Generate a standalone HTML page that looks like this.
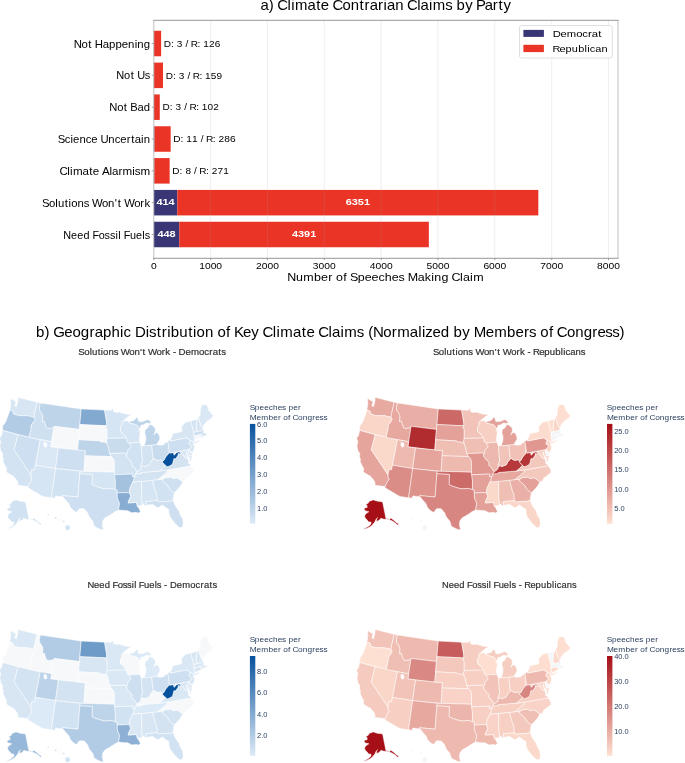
<!DOCTYPE html>
<html><head><meta charset="utf-8"><style>
html,body{margin:0;padding:0;background:#fff;overflow:hidden}
svg{display:block;will-change:transform}
text{font-family:"Liberation Sans",sans-serif}
</style></head><body>
<svg width="685" height="763" viewBox="0 0 685 763">
<rect width="685" height="763" fill="#fff"/>
<text transform="translate(260.55,9.70) scale(1.0816,1)" x="-0.08 7.61 12.33 15.49 24.92 28.33 31.79 43.43 51.51 55.76 63.41 66.57 75.75 83.38 91.59 96.13 100.87 108.69 113.68 116.83 124.47 132.23 135.39 144.82 147.98 155.74 159.20 170.67 177.34 181.26 189.17 196.28 199.24 207.18 214.72 220.03 224.52" y="0" font-size="13.80" fill="#000">a) Climate Contrarian Claims by Party</text>
<rect x="153.80" y="221.75" width="25.46" height="25.50" fill="#393675"/>
<rect x="179.26" y="221.75" width="249.58" height="25.50" fill="#ea3426"/>
<line x1="151.80" y1="234.50" x2="153.80" y2="234.50" stroke="#888" stroke-width="0.8"/>
<text transform="translate(63.25,238.60) scale(1.0298,1)" x="-0.12 7.47 13.53 19.69 25.86 28.50 34.46 40.17 45.30 50.70 53.44 56.09 58.73 64.71 70.59 76.76 79.23" y="0" font-size="10.55" fill="#000">Need Fossil Fuels</text>
<text transform="translate(157.40,237.20) scale(1.2030,1)" x="0.00 5.06 10.12" y="0" font-size="9.10" fill="#fff" font-weight="bold">448</text>
<text transform="translate(291.88,237.20) scale(1.2030,1)" x="0.00 5.06 10.12 15.18" y="0" font-size="9.10" fill="#fff" font-weight="bold">4391</text>
<rect x="153.80" y="189.92" width="23.53" height="25.50" fill="#393675"/>
<rect x="177.33" y="189.92" width="360.99" height="25.50" fill="#ea3426"/>
<line x1="151.80" y1="202.67" x2="153.80" y2="202.67" stroke="#888" stroke-width="0.8"/>
<text transform="translate(42.55,206.77) scale(1.0750,1)" x="-0.52 5.95 11.91 14.45 20.76 24.22 26.66 32.54 38.28 43.42 46.07 55.40 61.00 67.22 69.91 73.26 75.91 85.24 90.97 94.76" y="0" font-size="10.55" fill="#000">Solutions Won&#39;t Work</text>
<text transform="translate(156.43,205.37) scale(1.2030,1)" x="0.00 5.06 10.12" y="0" font-size="9.10" fill="#fff" font-weight="bold">414</text>
<text transform="translate(345.65,205.37) scale(1.2030,1)" x="0.00 5.06 10.12 15.18" y="0" font-size="9.10" fill="#fff" font-weight="bold">6351</text>
<rect x="153.80" y="158.09" width="0.45" height="25.50" fill="#393675"/>
<rect x="154.25" y="158.09" width="15.40" height="25.50" fill="#ea3426"/>
<line x1="151.80" y1="170.84" x2="153.80" y2="170.84" stroke="#888" stroke-width="0.8"/>
<text transform="translate(60.05,174.94) scale(1.0984,1)" x="-0.58 6.56 9.13 11.69 20.49 26.60 29.78 35.56 38.14 44.93 47.28 53.19 56.87 65.80 68.02 73.17" y="0" font-size="10.55" fill="#000">Climate Alarmism</text>
<text transform="translate(172.50,174.04) scale(1.0349,1)" x="-0.15 6.81 9.66 12.46 17.96 20.81 23.65 25.90 32.41 35.12 37.92 43.46 48.99" y="0" font-size="9.70" fill="#000">D: 8 / R: 271</text>
<rect x="153.80" y="126.26" width="0.63" height="25.50" fill="#393675"/>
<rect x="154.43" y="126.26" width="16.26" height="25.50" fill="#ea3426"/>
<line x1="151.80" y1="139.01" x2="153.80" y2="139.01" stroke="#888" stroke-width="0.8"/>
<text transform="translate(58.31,143.11) scale(1.0732,1)" x="-0.52 5.97 11.34 13.81 19.71 25.61 30.82 36.70 39.32 46.65 52.55 57.76 63.79 67.88 71.16 77.14 79.69" y="0" font-size="10.55" fill="#000">Science Uncertain</text>
<text transform="translate(173.52,142.21) scale(1.0499,1)" x="-0.20 6.70 9.50 12.24 17.70 23.14 25.94 28.75 30.94 37.38 40.06 42.80 48.25 53.70" y="0" font-size="9.70" fill="#000">D: 11 / R: 286</text>
<rect x="153.80" y="94.43" width="0.17" height="25.50" fill="#393675"/>
<rect x="153.97" y="94.43" width="5.80" height="25.50" fill="#ea3426"/>
<line x1="151.80" y1="107.18" x2="153.80" y2="107.18" stroke="#888" stroke-width="0.8"/>
<text transform="translate(109.57,111.28) scale(1.0660,1)" x="-0.25 7.10 13.35 16.73 19.46 26.22 32.16" y="0" font-size="10.55" fill="#000">Not Bad</text>
<text transform="translate(162.61,110.38) scale(1.0349,1)" x="-0.15 6.81 9.66 12.46 17.96 20.81 23.65 25.90 32.41 35.12 37.92 43.46 48.99" y="0" font-size="9.70" fill="#000">D: 3 / R: 102</text>
<rect x="153.80" y="62.60" width="0.17" height="25.50" fill="#393675"/>
<rect x="153.97" y="62.60" width="9.04" height="25.50" fill="#ea3426"/>
<line x1="151.80" y1="75.35" x2="153.80" y2="75.35" stroke="#888" stroke-width="0.8"/>
<text transform="translate(116.47,79.45) scale(1.0460,1)" x="-0.18 7.29 13.63 17.08 19.83 27.08" y="0" font-size="10.55" fill="#000">Not Us</text>
<text transform="translate(165.85,78.55) scale(1.0349,1)" x="-0.15 6.81 9.66 12.46 17.96 20.81 23.65 25.90 32.41 35.12 37.92 43.46 48.99" y="0" font-size="9.70" fill="#000">D: 3 / R: 159</text>
<rect x="153.80" y="30.77" width="0.17" height="25.50" fill="#393675"/>
<rect x="153.97" y="30.77" width="7.16" height="25.50" fill="#ea3426"/>
<line x1="151.80" y1="43.52" x2="153.80" y2="43.52" stroke="#888" stroke-width="0.8"/>
<text transform="translate(74.08,47.62) scale(1.0815,1)" x="-0.30 6.96 13.14 16.47 19.14 26.42 32.28 38.24 44.10 49.96 56.00 58.52 64.47" y="0" font-size="10.55" fill="#000">Not Happening</text>
<text transform="translate(163.97,46.72) scale(1.0349,1)" x="-0.15 6.81 9.66 12.46 17.96 20.81 23.65 25.90 32.41 35.12 37.92 43.46 48.99" y="0" font-size="9.70" fill="#000">D: 3 / R: 126</text>
<line x1="210.64" y1="20.30" x2="210.64" y2="258.30" stroke="rgba(160,160,160,0.22)" stroke-width="0.8"/>
<line x1="267.48" y1="20.30" x2="267.48" y2="258.30" stroke="rgba(160,160,160,0.22)" stroke-width="0.8"/>
<line x1="324.32" y1="20.30" x2="324.32" y2="258.30" stroke="rgba(160,160,160,0.22)" stroke-width="0.8"/>
<line x1="381.16" y1="20.30" x2="381.16" y2="258.30" stroke="rgba(160,160,160,0.22)" stroke-width="0.8"/>
<line x1="438.00" y1="20.30" x2="438.00" y2="258.30" stroke="rgba(160,160,160,0.22)" stroke-width="0.8"/>
<line x1="494.84" y1="20.30" x2="494.84" y2="258.30" stroke="rgba(160,160,160,0.22)" stroke-width="0.8"/>
<line x1="551.68" y1="20.30" x2="551.68" y2="258.30" stroke="rgba(160,160,160,0.22)" stroke-width="0.8"/>
<line x1="608.52" y1="20.30" x2="608.52" y2="258.30" stroke="rgba(160,160,160,0.22)" stroke-width="0.8"/>
<line x1="153.80" y1="20.30" x2="153.80" y2="258.30" stroke="#b8b8b8" stroke-width="0.9"/>
<line x1="618.00" y1="20.30" x2="618.00" y2="258.30" stroke="#b8b8b8" stroke-width="0.9"/>
<line x1="153.30" y1="20.30" x2="618.50" y2="20.30" stroke="#8a8a8a" stroke-width="0.9"/>
<line x1="153.30" y1="258.30" x2="618.50" y2="258.30" stroke="#8a8a8a" stroke-width="0.9"/>
<line x1="153.80" y1="258.30" x2="153.80" y2="260.10" stroke="#888" stroke-width="0.8"/>
<text transform="translate(150.94,268.80) scale(1.1012,1)" x="-0.00" y="0" font-size="9.35" fill="#000">0</text>
<line x1="210.64" y1="258.30" x2="210.64" y2="260.10" stroke="#888" stroke-width="0.8"/>
<text transform="translate(199.19,268.80) scale(1.1012,1)" x="-0.00 5.20 10.40 15.60" y="0" font-size="9.35" fill="#000">1000</text>
<line x1="267.48" y1="258.30" x2="267.48" y2="260.10" stroke="#888" stroke-width="0.8"/>
<text transform="translate(256.03,268.80) scale(1.1012,1)" x="-0.00 5.20 10.40 15.60" y="0" font-size="9.35" fill="#000">2000</text>
<line x1="324.32" y1="258.30" x2="324.32" y2="260.10" stroke="#888" stroke-width="0.8"/>
<text transform="translate(312.87,268.80) scale(1.1012,1)" x="-0.00 5.20 10.40 15.60" y="0" font-size="9.35" fill="#000">3000</text>
<line x1="381.16" y1="258.30" x2="381.16" y2="260.10" stroke="#888" stroke-width="0.8"/>
<text transform="translate(369.71,268.80) scale(1.1012,1)" x="-0.00 5.20 10.40 15.60" y="0" font-size="9.35" fill="#000">4000</text>
<line x1="438.00" y1="258.30" x2="438.00" y2="260.10" stroke="#888" stroke-width="0.8"/>
<text transform="translate(426.55,268.80) scale(1.1012,1)" x="-0.00 5.20 10.40 15.60" y="0" font-size="9.35" fill="#000">5000</text>
<line x1="494.84" y1="258.30" x2="494.84" y2="260.10" stroke="#888" stroke-width="0.8"/>
<text transform="translate(483.39,268.80) scale(1.1012,1)" x="-0.00 5.20 10.40 15.60" y="0" font-size="9.35" fill="#000">6000</text>
<line x1="551.68" y1="258.30" x2="551.68" y2="260.10" stroke="#888" stroke-width="0.8"/>
<text transform="translate(540.23,268.80) scale(1.1012,1)" x="-0.00 5.20 10.40 15.60" y="0" font-size="9.35" fill="#000">7000</text>
<line x1="608.52" y1="258.30" x2="608.52" y2="260.10" stroke="#888" stroke-width="0.8"/>
<text transform="translate(597.07,268.80) scale(1.1012,1)" x="-0.00 5.20 10.40 15.60" y="0" font-size="9.35" fill="#000">8000</text>
<text transform="translate(287.50,280.80) scale(1.0764,1)" x="-0.29 7.87 14.64 24.62 31.14 37.78 41.89 45.12 51.76 55.25 57.95 65.21 71.72 78.13 84.52 90.36 96.87 103.11 108.77 111.70 120.99 127.52 133.60 136.41 143.02 149.60 152.31 160.30 163.00 169.57 172.55" y="0" font-size="11.60" fill="#000">Number of Speeches Making Claim</text>
<rect x="519.5" y="25.5" width="92.7" height="32.5" rx="2" ry="2" fill="#fff" fill-opacity="0.8" stroke="#d8d8d8" stroke-width="0.8"/>
<rect x="523.40" y="29.90" width="20.50" height="7.00" fill="#393675"/>
<rect x="523.40" y="44.80" width="20.50" height="7.30" fill="#ea3426"/>
<text transform="translate(552.90,37.00) scale(1.1512,1)" x="-0.23 6.55 12.03 20.21 25.48 30.43 33.74 39.43" y="0" font-size="9.80" fill="#000">Democrat</text>
<text transform="translate(552.90,52.00) scale(1.1176,1)" x="-0.45 5.98 11.33 16.96 22.60 28.29 30.76 33.07 37.96 43.49" y="0" font-size="9.80" fill="#000">Republican</text>
<text transform="translate(36.00,337.00) scale(1.0810,1)" x="0.06 7.96 12.72 16.01 26.15 33.75 41.46 49.49 54.27 61.99 69.84 77.81 81.00 87.91 91.56 101.52 104.53 111.72 116.31 121.34 124.67 132.52 140.81 145.34 148.52 156.23 164.06 167.87 175.77 179.92 183.24 191.57 199.12 206.29 209.50 219.01 222.45 225.95 237.70 245.85 250.15 257.86 261.06 270.58 273.77 281.60 285.10 296.67 303.40 307.40 311.74 321.31 329.19 334.18 345.82 353.65 357.09 360.13 366.79 374.53 382.36 386.32 394.30 401.48 404.92 415.99 423.91 435.79 443.52 451.43 456.03 462.77 466.59 474.49 478.63 481.83 491.10 498.80 506.66 514.68 519.34 526.63 533.08 539.88" y="0" font-size="13.90" fill="#000">b) Geographic Distribution of Key Climate Claims (Normalized by Members of Congress)</text>
<text transform="translate(78.77,355.40) scale(1.0800,1)" x="-0.45 5.02 10.06 12.21 17.55 20.47 22.53 27.50 32.36 36.70 38.93 46.82 51.56 56.82 59.09 61.93 64.16 72.05 76.90 80.10 84.68 87.14 90.09 92.45 98.72 103.82 111.39 116.28 120.86 123.95 129.20 131.85" y="0" font-size="8.95" fill="#303030" stroke="#303030" stroke-width="0.18">Solutions Won&#39;t Work - Democrats</text>
<g stroke="#fff" stroke-width="0.5" stroke-linejoin="round"><path d="M10.56,398.41L14.31,400.78L15.94,401.42L14.78,405.99L16.48,406.47L17.87,401.01L18.03,397.35L37.08,402.22L34.17,415.10L34.08,417.29L26.86,415.60L24.91,415.65L21.16,415.75L18.57,415.59L15.78,414.82L13.41,413.89L13.02,411.36L10.14,409.70L9.70,409.30L10.58,405.81L10.64,402.61Z" fill="#d8e6f4"/><path d="M10.14,409.70L13.02,411.36L13.41,413.89L15.78,414.82L18.57,415.59L21.16,415.75L24.91,415.65L26.86,415.60L34.08,417.29L35.18,419.64L33.37,422.42L31.14,425.62L31.19,428.28L29.13,437.39L2.63,430.39L2.62,426.05L5.61,422.09L8.85,413.35Z" fill="#b3cce5"/><path d="M2.63,430.39L18.10,434.74L14.19,449.84L30.98,474.99L31.02,476.06L31.22,478.75L32.32,479.12L30.10,482.23L28.65,485.12L28.28,486.53L17.90,485.33L17.89,482.83L16.89,480.48L15.22,478.22L14.03,477.67L13.90,476.41L11.15,475.10L6.27,471.98L6.59,468.30L4.65,465.08L3.08,461.42L3.50,459.91L2.38,456.35L2.85,453.24L1.20,451.68L-0.16,446.39L0.81,441.80L-0.53,438.13L1.51,435.48L2.20,431.89Z" fill="#d3e3f2"/><path d="M18.10,434.74L40.31,439.71L34.59,469.33L34.25,469.80L31.71,469.83L30.98,474.99L14.19,449.84Z" fill="#cddff0"/><path d="M37.08,402.22L40.37,402.94L39.29,407.92L39.91,410.93L41.08,412.22L42.90,415.73L42.78,419.11L42.15,421.35L44.26,420.97L45.29,424.31L46.53,427.69L48.66,428.33L52.50,427.66L53.61,428.89L51.56,441.68L29.13,437.39L31.19,428.28L31.14,425.62L33.37,422.42L35.18,419.64L34.08,417.29L34.17,415.10Z" fill="#cfe0f1"/><path d="M40.37,402.94L81.16,408.98L79.41,429.43L54.02,426.34L53.61,428.89L52.50,427.66L48.66,428.33L46.53,427.69L45.29,424.31L44.26,420.97L42.15,421.35L42.78,419.11L42.90,415.73L41.08,412.22L39.91,410.93L39.29,407.92Z" fill="#bed4e9"/><path d="M54.02,426.34L79.41,429.43L77.65,450.08L50.74,446.81Z" fill="#f7f8fa"/><path d="M40.31,439.71L51.56,441.68L50.74,446.81L58.40,447.94L55.54,468.56L35.38,465.25Z" fill="#dae8f5"/><path d="M58.40,447.94L85.38,450.65L84.05,471.42L55.54,468.56Z" fill="#cddff0"/><path d="M35.38,465.25L55.54,468.56L51.49,497.72L42.69,496.42L27.63,487.56L28.28,486.53L28.65,485.12L30.10,482.23L32.32,479.12L31.22,478.75L31.02,476.06L30.98,474.99L31.71,469.83L34.25,469.80L34.59,469.33Z" fill="#d5e5f3"/><path d="M55.54,468.56L80.17,471.16L79.81,473.74L77.99,497.04L62.50,495.60L62.90,496.79L55.50,495.91L55.20,498.22L51.49,497.72Z" fill="#d1e2f2"/><path d="M81.16,408.98L104.58,410.12L104.99,412.68L105.82,417.29L106.67,422.42L106.79,425.82L79.83,424.60Z" fill="#82a9d0"/><path d="M79.83,424.60L106.79,425.82L105.73,427.56L107.17,429.12L107.12,438.42L106.55,441.01L107.10,443.65L104.28,442.02L101.25,442.13L99.40,440.89L78.53,439.74Z" fill="#f7f8fa"/><path d="M78.53,439.74L99.40,440.89L101.25,442.13L104.28,442.02L107.10,443.65L108.04,446.20L108.81,448.80L109.19,451.39L109.59,453.47L111.52,456.58L85.05,455.84L85.38,450.65L77.65,450.08Z" fill="#bed4e9"/><path d="M85.05,455.84L111.52,456.58L113.15,458.13L114.38,461.24L114.46,472.16L84.05,471.42Z" fill="#f7f8fa"/><path d="M80.17,471.16L114.46,472.16L115.37,480.48L115.31,489.62L110.94,488.32L106.67,488.84L103.68,488.81L100.71,487.98L96.49,486.58L93.56,485.44L91.90,484.54L92.32,474.46L79.81,473.74Z" fill="#d5e5f3"/><path d="M79.81,473.74L92.32,474.46L91.90,484.54L93.56,485.44L96.49,486.58L100.71,487.98L103.68,488.81L106.67,488.84L110.94,488.32L115.31,489.62L117.20,490.06L117.37,498.09L118.48,500.66L119.64,503.21L119.07,506.85L118.51,509.96L114.67,511.83L112.88,513.14L108.81,515.73L105.15,517.77L102.82,520.83L102.29,524.92L103.40,529.28L101.75,529.77L98.49,528.43L94.34,526.27L92.66,521.09L89.16,516.83L87.54,512.63L84.13,508.84L80.10,508.59L78.68,509.52L76.65,512.48L74.48,511.28L72.76,510.10L70.30,507.30L68.86,503.54L65.64,500.10L62.90,496.79L62.50,495.60L77.99,497.04Z" fill="#cddff0"/><path d="M104.58,410.12L111.73,410.14L111.71,408.21L112.91,408.60L113.64,411.64L116.43,412.51L119.19,412.03L122.70,413.17L126.93,414.25L131.49,414.48L128.13,416.74L124.74,419.49L122.69,421.37L122.00,421.91L122.11,424.74L120.40,427.38L120.67,429.95L120.55,431.76L122.43,432.98L123.97,434.47L126.66,437.97L107.12,438.42L107.17,429.12L105.73,427.56L106.79,425.82L106.67,422.42L105.82,417.29L104.99,412.68Z" fill="#d5e5f3"/><path d="M107.12,438.42L126.66,437.97L127.31,441.83L129.12,442.98L130.12,444.54L131.20,446.55L130.13,447.92L127.92,449.86L127.84,451.94L126.70,454.19L125.44,453.05L109.70,453.58L109.59,453.47L109.19,451.39L108.81,448.80L108.04,446.20L107.10,443.65L106.55,441.01Z" fill="#c9dcee"/><path d="M109.70,453.58L125.44,453.05L126.70,454.19L126.68,456.17L127.77,458.20L129.86,460.17L131.00,461.41L132.10,463.01L131.76,465.27L133.25,466.49L135.12,468.45L135.52,469.99L137.04,471.29L136.74,472.77L135.58,473.90L135.07,475.49L134.93,476.55L132.11,476.72L132.91,474.07L114.49,474.77L114.46,472.16L114.38,461.24L113.15,458.13L111.52,456.58L109.59,453.47Z" fill="#d3e3f2"/><path d="M114.49,474.77L132.91,474.07L132.11,476.72L134.93,476.55L134.03,478.69L133.74,480.79L132.72,481.90L131.65,484.56L130.31,487.24L129.59,489.87L129.64,492.47L117.26,492.91L117.20,490.06L115.31,489.62L115.37,480.48Z" fill="#a4c1de"/><path d="M117.26,492.91L129.64,492.47L130.07,495.04L130.98,495.77L130.21,497.63L129.01,499.97L128.09,502.91L136.52,502.44L137.38,506.53L138.32,507.24L140.43,511.48L138.72,512.90L135.95,512.30L131.90,512.80L127.72,510.68L124.56,510.55L118.51,509.96L119.07,506.85L119.64,503.21L118.48,500.66L117.37,498.09Z" fill="#88add3"/><path d="M132.72,481.90L131.65,484.56L130.31,487.24L129.59,489.87L129.64,492.47L130.07,495.04L130.98,495.77L130.21,497.63L129.01,499.97L128.09,502.91L136.52,502.44L137.38,506.53L142.64,505.11L141.71,497.40L141.57,481.27Z" fill="#d8e6f4"/><path d="M141.57,481.27L152.45,480.23L155.36,490.88L156.80,493.84L157.36,500.55L145.92,501.72L146.68,505.28L144.48,505.73L143.86,503.71L142.64,505.11L141.71,497.40Z" fill="#d5e5f3"/><path d="M152.45,480.23L162.88,478.95L162.05,480.64L164.71,482.90L167.68,485.62L169.42,488.51L172.03,491.26L174.46,492.72L173.61,495.73L173.14,499.89L170.86,501.12L170.78,502.12L169.96,501.15L158.16,502.02L157.36,500.55L156.80,493.84L155.36,490.88Z" fill="#d1e2f2"/><path d="M145.92,501.72L157.36,500.55L158.16,502.02L169.96,501.15L170.78,502.12L170.86,501.12L173.14,499.89L174.54,504.48L176.66,507.80L179.03,511.06L180.47,515.51L182.66,518.78L183.20,523.36L182.63,527.07L180.10,527.74L179.04,527.14L175.16,523.60L173.39,521.28L170.20,517.08L169.02,513.62L168.90,509.48L165.41,507.36L162.37,504.89L160.69,505.88L158.20,507.73L156.29,506.91L152.40,504.21L146.68,505.28Z" fill="#cddff0"/><path d="M162.88,478.95L165.64,477.51L171.28,476.93L172.03,477.60L172.61,478.56L177.18,477.80L182.85,481.75L180.73,485.61L178.20,488.69L174.46,492.72L172.03,491.26L169.42,488.51L167.68,485.62L164.71,482.90L162.05,480.64Z" fill="#cfe0f1"/><path d="M157.79,479.61L159.00,478.41L162.45,475.86L164.67,473.71L166.61,472.64L167.46,469.94L191.11,465.84L193.44,469.33L194.11,472.37L192.28,473.83L189.71,475.96L186.66,477.90L185.54,481.03L182.85,481.75L177.18,477.80L172.61,478.56L172.03,477.60L171.28,476.93L165.64,477.51L162.88,478.95Z" fill="#f7f8fa"/><path d="M132.72,481.90L141.57,481.27L152.45,480.23L157.79,479.61L159.00,478.41L162.45,475.86L164.67,473.71L166.61,472.64L167.46,469.94L159.42,471.01L141.38,472.52L141.46,473.45L135.58,473.90L135.07,475.49L134.93,476.55L134.03,478.69L133.74,480.79Z" fill="#d3e3f2"/><path d="M135.58,473.90L141.46,473.45L141.38,472.52L159.42,471.01L162.28,468.53L164.45,466.38L165.63,465.21L164.11,464.07L162.63,462.33L162.45,461.04L160.64,459.67L158.31,460.40L155.80,459.67L154.45,458.52L153.19,458.67L153.19,458.67L152.26,460.35L151.13,461.01L149.94,463.39L149.13,464.89L147.17,465.61L144.82,466.52L142.83,465.65L141.05,466.69L141.05,466.69L140.90,468.27L139.04,470.62L137.04,471.29L136.74,472.77Z" fill="#d8e6f4"/><path d="M159.42,471.01L167.46,469.94L191.11,465.84L190.33,464.14L188.89,463.91L188.36,461.37L188.02,458.78L184.63,457.35L183.97,455.09L181.86,453.65L180.88,453.21L180.64,454.26L178.35,453.27L177.92,455.31L176.81,456.99L175.86,458.48L174.72,458.95L173.99,458.28L173.14,461.60L172.37,464.36L170.29,465.49L168.96,466.23L166.98,466.80L165.63,465.21L164.45,466.38L162.28,468.53Z" fill="#d3e3f2"/><path d="M190.44,458.53L191.93,457.77L191.03,460.26L190.13,462.85L189.68,461.35L189.71,458.95Z" fill="#d3e3f2"/><path d="M162.45,461.04L162.63,462.33L164.11,464.07L165.63,465.21L166.98,466.80L168.96,466.23L170.29,465.49L172.37,464.36L173.14,461.60L173.99,458.28L174.72,458.95L175.86,458.48L176.81,456.99L177.92,455.31L178.35,453.27L180.64,454.26L180.88,453.21L179.51,451.99L178.66,451.73L176.40,452.57L175.77,453.48L174.12,455.09L173.65,452.42L169.61,453.11L168.83,448.39L168.15,448.60L168.34,450.26L168.48,451.82L168.38,453.68L167.22,455.18L165.81,456.45L165.37,457.57L164.86,458.17L164.30,459.83L163.05,460.96Z" fill="#08519c"/><path d="M173.65,452.42L187.94,449.64L189.34,456.10L192.24,455.47L191.93,457.77L190.44,458.53L189.71,458.95L188.48,457.08L186.71,454.53L186.81,452.12L185.94,452.83L186.78,455.84L187.50,457.29L188.02,458.78L184.63,457.35L183.97,455.09L181.86,453.65L180.88,453.21L179.51,451.99L178.66,451.73L176.40,452.57L175.77,453.48L174.12,455.09Z" fill="#d8e6f4"/><path d="M187.94,449.64L189.27,448.93L189.00,450.05L189.91,451.45L191.84,453.69L192.24,455.47L189.34,456.10Z" fill="#d8e6f4"/><path d="M167.68,441.42L169.61,453.11L187.94,449.64L189.27,448.93L190.66,447.55L191.63,446.53L189.59,444.59L188.93,443.41L190.27,440.39L188.64,439.48L187.07,437.70L170.54,440.94L170.30,439.55Z" fill="#cddff0"/><path d="M170.54,440.94L187.07,437.70L188.64,439.48L190.27,440.39L193.67,441.53L193.65,443.13L192.88,444.11L193.79,443.74L197.50,442.48L201.12,439.42L198.59,440.44L194.92,441.76L194.61,441.30L194.93,440.16L193.89,435.87L193.92,432.12L192.72,427.88L190.83,420.89L186.02,422.02L184.11,423.50L181.16,427.31L182.28,430.77L179.56,432.39L175.83,432.86L172.05,434.09L172.38,435.87L170.30,439.55Z" fill="#d8e6f4"/><path d="M190.27,440.39L193.67,441.53L193.65,443.13L192.94,444.37L194.01,444.65L194.54,447.73L193.72,450.33L192.08,452.94L190.69,451.28L189.00,450.05L189.27,448.93L190.66,447.55L191.63,446.53L189.59,444.59L188.93,443.41Z" fill="#d8e6f4"/><path d="M194.61,441.30L194.93,440.16L193.89,435.87L200.22,434.44L201.13,437.91L198.59,438.88L196.81,439.70Z" fill="#f7f8fa"/><path d="M200.22,434.44L201.78,434.04L203.44,436.39L202.87,435.47L202.22,437.52L201.13,437.91Z" fill="#d8e6f4"/><path d="M193.89,435.87L193.92,432.12L196.88,431.50L201.16,430.55L202.75,429.21L203.85,430.37L202.98,432.21L204.75,433.62L207.24,434.01L206.63,432.56L207.54,434.36L205.11,435.67L203.44,436.39L201.78,434.04L200.22,434.44Z" fill="#cddff0"/><path d="M193.92,432.12L196.88,431.50L196.11,427.57L196.34,423.24L197.37,419.19L190.83,420.89L192.72,427.88Z" fill="#d3e3f2"/><path d="M196.88,431.50L196.11,427.57L196.34,423.24L197.37,419.19L198.46,417.35L200.50,423.76L201.42,426.73L202.87,428.21L202.75,429.21L201.16,430.55Z" fill="#d8e6f4"/><path d="M202.87,428.21L201.42,426.73L200.50,423.76L198.46,417.35L199.74,415.40L200.37,413.63L200.30,409.38L201.96,404.90L205.15,404.50L207.33,405.34L209.10,411.09L210.69,412.22L211.48,414.14L213.59,415.37L212.13,417.45L210.04,419.44L207.71,420.67L205.07,423.57L203.92,424.97Z" fill="#dae8f5"/><path d="M143.94,445.76L151.67,445.24L156.79,444.44L157.71,442.64L159.76,439.48L159.84,437.37L158.84,434.37L156.89,432.55L155.27,433.03L153.84,435.05L155.21,431.22L155.16,428.09L152.23,425.35L149.56,424.38L148.69,426.30L147.11,428.56L145.35,429.27L144.76,432.44L145.98,437.00L145.66,441.20Z" fill="#bed4e9"/><path d="M128.79,422.00L133.69,420.49L136.00,418.25L137.30,416.86L138.79,421.62L142.73,421.51L147.88,419.40L149.48,420.77L151.48,422.33L149.47,423.62L146.49,422.92L143.09,425.09L141.27,425.01L139.43,428.80L138.39,427.34L137.31,425.36L133.60,424.10L129.76,423.33Z" fill="#bed4e9"/><path d="M128.79,422.00L129.76,423.33L133.60,424.10L137.31,425.36L138.39,427.34L139.43,428.80L138.92,431.44L140.83,428.16L140.12,432.37L139.70,436.04L139.27,439.72L139.87,442.27L129.12,442.98L127.31,441.83L126.66,437.97L123.97,434.47L122.43,432.98L120.55,431.76L120.67,429.95L120.40,427.38L122.11,424.74L122.00,421.91L122.69,421.37L126.56,420.42Z" fill="#d5e5f3"/><path d="M129.12,442.98L139.87,442.27L141.27,446.00L142.35,458.49L142.53,461.34L141.15,464.07L141.05,466.69L140.90,468.27L139.04,470.62L137.04,471.29L135.52,469.99L135.12,468.45L133.25,466.49L131.76,465.27L132.10,463.01L131.00,461.41L129.86,460.17L127.77,458.20L126.68,456.17L126.70,454.19L127.84,451.94L127.92,449.86L130.13,447.92L131.20,446.55L130.12,444.54L129.12,442.98Z" fill="#d1e2f2"/><path d="M141.27,446.00L143.94,445.76L151.67,445.24L153.19,458.67L152.26,460.35L151.13,461.01L149.94,463.39L149.13,464.89L147.17,465.61L144.82,466.52L142.83,465.65L141.05,466.69L141.15,464.07L142.53,461.34L142.35,458.49Z" fill="#d3e3f2"/><path d="M151.67,445.24L156.79,444.44L159.81,445.24L163.61,444.68L165.99,442.48L167.69,441.52L168.83,448.39L168.15,448.60L168.34,450.26L168.48,451.82L168.38,453.68L167.22,455.18L165.81,456.45L165.37,457.57L164.86,458.17L164.30,459.83L163.05,460.96L162.45,461.04L160.64,459.67L158.31,460.40L155.80,459.67L154.45,458.52L153.19,458.67Z" fill="#c9dcee"/><path d="M25.52,501.92L28.79,518.35L30.70,518.68L32.38,519.77L33.08,518.84L33.82,518.07L36.33,519.96L40.05,523.29L41.06,523.11L41.45,524.12L40.47,525.05L38.44,523.27L35.74,521.28L33.69,520.36L31.93,519.88L29.85,519.05L27.12,519.21L25.23,518.76L23.83,518.20L22.64,519.78L21.34,520.61L19.36,521.43L19.44,518.71L20.71,517.74L19.01,519.09L18.15,521.10L17.24,522.56L15.28,524.88L12.70,526.92L10.03,528.14L7.32,528.90L5.89,529.22L7.96,528.08L10.15,527.07L12.29,525.63L13.87,523.92L13.96,522.11L11.63,521.94L9.99,519.95L8.03,517.85L7.47,515.92L8.69,513.74L11.77,511.77L9.88,511.17L7.97,510.86L6.82,508.80L8.52,507.85L10.04,507.56L9.97,505.73L8.83,504.26L11.01,503.35L12.27,501.19L15.43,500.21L15.75,499.70L17.84,500.42L20.96,501.32L22.87,501.46Z" fill="#d1e2f2"/><path d="M70.28,527.54L69.76,525.89L68.41,524.87L66.75,524.88L65.41,525.91L64.90,527.58L65.42,529.24L66.78,530.26L68.44,530.25L69.78,529.21Z" fill="#d3e3f2"/><path d="M65.12,521.42L64.84,520.88L64.11,520.54L63.21,520.55L62.48,520.88L62.20,521.42L62.48,521.97L63.21,522.30L64.12,522.30L64.85,521.96Z" fill="#d3e3f2"/><path d="M57.00,518.09L56.75,517.49L56.07,517.12L55.23,517.11L54.55,517.48L54.29,518.08L54.54,518.69L55.22,519.06L56.06,519.06L56.74,518.69Z" fill="#d3e3f2"/><path d="M49.22,514.98L49.02,514.44L48.49,514.10L47.83,514.09L47.30,514.42L47.09,514.96L47.29,515.50L47.81,515.84L48.47,515.85L49.01,515.52Z" fill="#d3e3f2"/><path d="M61.47,519.79L61.24,519.58L60.63,519.45L59.88,519.45L59.27,519.58L59.04,519.79L59.27,520.00L59.88,520.13L60.63,520.13L61.24,520.00Z" fill="#d3e3f2"/><path d="M44.08,442.25L46.68,442.98L46.91,446.18L44.97,447.16L43.76,445.10Z" fill="#ffffff"/></g>
<defs><linearGradient id="gswd" x1="0" y1="1" x2="0" y2="0"><stop offset="0" stop-color="#deebf7"/><stop offset="1" stop-color="#08519c"/></linearGradient></defs>
<rect x="249.90" y="423.90" width="5.40" height="99.80" fill="url(#gswd)"/>
<text transform="translate(250.00,409.80) scale(1.0594,1)" x="-0.35 4.57 9.00 13.35 17.70 21.67 26.09 30.33 34.16 36.45 40.88 45.38" y="0" font-size="7.80" fill="#2a3f5f">Speeches per</text>
<text transform="translate(250.00,419.70) scale(1.0646,1)" x="-0.21 6.08 10.59 17.34 21.74 26.23 29.01 31.20 35.68 38.04 39.89 45.15 49.54 54.01 58.56 61.23 65.37 69.04" y="0" font-size="7.80" fill="#2a3f5f">Member of Congress</text>
<text transform="translate(257.10,426.60) scale(1.0939,1)" x="-0.00 3.81 5.71" y="0" font-size="6.85" fill="#2a3f5f">6.0</text>
<text transform="translate(257.10,443.42) scale(1.0939,1)" x="-0.00 3.81 5.71" y="0" font-size="6.85" fill="#2a3f5f">5.0</text>
<text transform="translate(257.10,460.24) scale(1.0939,1)" x="-0.00 3.81 5.71" y="0" font-size="6.85" fill="#2a3f5f">4.0</text>
<text transform="translate(257.10,477.06) scale(1.0939,1)" x="-0.00 3.81 5.71" y="0" font-size="6.85" fill="#2a3f5f">3.0</text>
<text transform="translate(257.10,493.88) scale(1.0939,1)" x="-0.00 3.81 5.71" y="0" font-size="6.85" fill="#2a3f5f">2.0</text>
<text transform="translate(257.10,510.70) scale(1.0939,1)" x="-0.00 3.81 5.71" y="0" font-size="6.85" fill="#2a3f5f">1.0</text>
<text transform="translate(433.36,355.40) scale(1.0699,1)" x="-0.43 5.09 10.17 12.35 17.73 20.67 22.76 27.78 32.68 37.06 39.34 47.29 52.07 57.36 59.66 62.52 64.81 72.75 77.64 80.88 85.49 87.97 90.96 93.05 98.89 103.74 108.85 113.96 119.13 121.37 123.46 127.89 132.92 137.82" y="0" font-size="8.95" fill="#303030" stroke="#303030" stroke-width="0.18">Solutions Won&#39;t Work - Republicans</text>
<g stroke="#fff" stroke-width="0.5" stroke-linejoin="round"><path d="M367.66,398.41L371.41,400.78L373.04,401.42L371.88,405.99L373.58,406.47L374.97,401.01L375.13,397.35L394.18,402.22L391.27,415.10L391.18,417.29L383.96,415.60L382.01,415.65L378.26,415.75L375.67,415.59L372.88,414.82L370.51,413.89L370.12,411.36L367.24,409.70L366.80,409.30L367.68,405.81L367.74,402.61Z" fill="#e7aaa1"/><path d="M367.24,409.70L370.12,411.36L370.51,413.89L372.88,414.82L375.67,415.59L378.26,415.75L382.01,415.65L383.96,415.60L391.18,417.29L392.28,419.64L390.47,422.42L388.24,425.62L388.29,428.28L386.23,437.39L359.73,430.39L359.72,426.05L362.71,422.09L365.95,413.35Z" fill="#fad6c9"/><path d="M359.73,430.39L375.20,434.74L371.29,449.84L388.08,474.99L388.12,476.06L388.32,478.75L389.42,479.12L387.20,482.23L385.75,485.12L385.38,486.53L375.00,485.33L374.99,482.83L373.99,480.48L372.32,478.22L371.13,477.67L371.00,476.41L368.25,475.10L363.37,471.98L363.69,468.30L361.75,465.08L360.18,461.42L360.60,459.91L359.48,456.35L359.95,453.24L358.30,451.68L356.94,446.39L357.91,441.80L356.57,438.13L358.61,435.48L359.30,431.89Z" fill="#e5a59d"/><path d="M375.20,434.74L397.41,439.71L391.69,469.33L391.35,469.80L388.81,469.83L388.08,474.99L371.29,449.84Z" fill="#fad8ca"/><path d="M394.18,402.22L397.47,402.94L396.39,407.92L397.01,410.93L398.18,412.22L400.00,415.73L399.88,419.11L399.25,421.35L401.36,420.97L402.39,424.31L403.63,427.69L405.76,428.33L409.60,427.66L410.71,428.89L408.66,441.68L386.23,437.39L388.29,428.28L388.24,425.62L390.47,422.42L392.28,419.64L391.18,417.29L391.27,415.10Z" fill="#e6a89f"/><path d="M397.47,402.94L438.26,408.98L436.51,429.43L411.12,426.34L410.71,428.89L409.60,427.66L405.76,428.33L403.63,427.69L402.39,424.31L401.36,420.97L399.25,421.35L399.88,419.11L400.00,415.73L398.18,412.22L397.01,410.93L396.39,407.92Z" fill="#e9aea5"/><path d="M411.12,426.34L436.51,429.43L434.75,450.08L407.84,446.81Z" fill="#b12c2f"/><path d="M397.41,439.71L408.66,441.68L407.84,446.81L415.50,447.94L412.64,468.56L392.48,465.25Z" fill="#eebab0"/><path d="M415.50,447.94L442.48,450.65L441.15,471.42L412.64,468.56Z" fill="#e5a59d"/><path d="M392.48,465.25L412.64,468.56L408.59,497.72L399.79,496.42L384.73,487.56L385.38,486.53L385.75,485.12L387.20,482.23L389.42,479.12L388.32,478.75L388.12,476.06L388.08,474.99L388.81,469.83L391.35,469.80L391.69,469.33Z" fill="#da8c86"/><path d="M412.64,468.56L437.27,471.16L436.91,473.74L435.09,497.04L419.60,495.60L420.00,496.79L412.60,495.91L412.30,498.22L408.59,497.72Z" fill="#dd938c"/><path d="M438.26,408.98L461.68,410.12L462.09,412.68L462.92,417.29L463.77,422.42L463.89,425.82L436.93,424.60Z" fill="#cb6966"/><path d="M436.93,424.60L463.89,425.82L462.83,427.56L464.27,429.12L464.22,438.42L463.65,441.01L464.20,443.65L461.38,442.02L458.35,442.13L456.50,440.89L435.63,439.74Z" fill="#e3a199"/><path d="M435.63,439.74L456.50,440.89L458.35,442.13L461.38,442.02L464.20,443.65L465.14,446.20L465.91,448.80L466.29,451.39L466.69,453.47L468.62,456.58L442.15,455.84L442.48,450.65L434.75,450.08Z" fill="#f0bfb4"/><path d="M442.15,455.84L468.62,456.58L470.25,458.13L471.48,461.24L471.56,472.16L441.15,471.42Z" fill="#eebab0"/><path d="M437.27,471.16L471.56,472.16L472.47,480.48L472.41,489.62L468.04,488.32L463.77,488.84L460.78,488.81L457.81,487.98L453.59,486.58L450.66,485.44L449.00,484.54L449.42,474.46L436.91,473.74Z" fill="#cc6b68"/><path d="M436.91,473.74L449.42,474.46L449.00,484.54L450.66,485.44L453.59,486.58L457.81,487.98L460.78,488.81L463.77,488.84L468.04,488.32L472.41,489.62L474.30,490.06L474.47,498.09L475.58,500.66L476.74,503.21L476.17,506.85L475.61,509.96L471.77,511.83L469.98,513.14L465.91,515.73L462.25,517.77L459.92,520.83L459.39,524.92L460.50,529.28L458.85,529.77L455.59,528.43L451.44,526.27L449.76,521.09L446.26,516.83L444.64,512.63L441.23,508.84L437.20,508.59L435.78,509.52L433.75,512.48L431.58,511.28L429.86,510.10L427.40,507.30L425.96,503.54L422.74,500.10L420.00,496.79L419.60,495.60L435.09,497.04Z" fill="#d88681"/><path d="M461.68,410.12L468.83,410.14L468.81,408.21L470.01,408.60L470.74,411.64L473.53,412.51L476.29,412.03L479.80,413.17L484.03,414.25L488.59,414.48L485.23,416.74L481.84,419.49L479.79,421.37L479.10,421.91L479.21,424.74L477.50,427.38L477.77,429.95L477.65,431.76L479.53,432.98L481.07,434.47L483.76,437.97L464.22,438.42L464.27,429.12L462.83,427.56L463.89,425.82L463.77,422.42L462.92,417.29L462.09,412.68Z" fill="#f2c3b8"/><path d="M464.22,438.42L483.76,437.97L484.41,441.83L486.22,442.98L487.22,444.54L488.30,446.55L487.23,447.92L485.02,449.86L484.94,451.94L483.80,454.19L482.54,453.05L466.80,453.58L466.69,453.47L466.29,451.39L465.91,448.80L465.14,446.20L464.20,443.65L463.65,441.01Z" fill="#f0bfb4"/><path d="M466.80,453.58L482.54,453.05L483.80,454.19L483.78,456.17L484.87,458.20L486.96,460.17L488.10,461.41L489.20,463.01L488.86,465.27L490.35,466.49L492.22,468.45L492.62,469.99L494.14,471.29L493.84,472.77L492.68,473.90L492.17,475.49L492.03,476.55L489.21,476.72L490.01,474.07L471.59,474.77L471.56,472.16L471.48,461.24L470.25,458.13L468.62,456.58L466.69,453.47Z" fill="#df9790"/><path d="M471.59,474.77L490.01,474.07L489.21,476.72L492.03,476.55L491.13,478.69L490.84,480.79L489.82,481.90L488.75,484.56L487.41,487.24L486.69,489.87L486.74,492.47L474.36,492.91L474.30,490.06L472.41,489.62L472.47,480.48Z" fill="#e3a199"/><path d="M474.36,492.91L486.74,492.47L487.17,495.04L488.08,495.77L487.31,497.63L486.11,499.97L485.19,502.91L493.62,502.44L494.48,506.53L495.42,507.24L497.53,511.48L495.82,512.90L493.05,512.30L489.00,512.80L484.82,510.68L481.66,510.55L475.61,509.96L476.17,506.85L476.74,503.21L475.58,500.66L474.47,498.09Z" fill="#e3a199"/><path d="M489.82,481.90L488.75,484.56L487.41,487.24L486.69,489.87L486.74,492.47L487.17,495.04L488.08,495.77L487.31,497.63L486.11,499.97L485.19,502.91L493.62,502.44L494.48,506.53L499.74,505.11L498.81,497.40L498.67,481.27Z" fill="#fad8ca"/><path d="M498.67,481.27L509.55,480.23L512.46,490.88L513.90,493.84L514.46,500.55L503.02,501.72L503.78,505.28L501.58,505.73L500.96,503.71L499.74,505.11L498.81,497.40Z" fill="#f0bfb4"/><path d="M509.55,480.23L519.98,478.95L519.15,480.64L521.81,482.90L524.78,485.62L526.52,488.51L529.13,491.26L531.56,492.72L530.71,495.73L530.24,499.89L527.96,501.12L527.88,502.12L527.06,501.15L515.26,502.02L514.46,500.55L513.90,493.84L512.46,490.88Z" fill="#eab0a7"/><path d="M503.02,501.72L514.46,500.55L515.26,502.02L527.06,501.15L527.88,502.12L527.96,501.12L530.24,499.89L531.64,504.48L533.76,507.80L536.13,511.06L537.57,515.51L539.76,518.78L540.30,523.36L539.73,527.07L537.20,527.74L536.14,527.14L532.26,523.60L530.49,521.28L527.30,517.08L526.12,513.62L526.00,509.48L522.51,507.36L519.47,504.89L517.79,505.88L515.30,507.73L513.39,506.91L509.50,504.21L503.78,505.28Z" fill="#fad6c9"/><path d="M519.98,478.95L522.74,477.51L528.38,476.93L529.13,477.60L529.71,478.56L534.28,477.80L539.95,481.75L537.83,485.61L535.30,488.69L531.56,492.72L529.13,491.26L526.52,488.51L524.78,485.62L521.81,482.90L519.15,480.64Z" fill="#e3a199"/><path d="M514.89,479.61L516.10,478.41L519.55,475.86L521.77,473.71L523.71,472.64L524.56,469.94L548.21,465.84L550.54,469.33L551.21,472.37L549.38,473.83L546.81,475.96L543.76,477.90L542.64,481.03L539.95,481.75L534.28,477.80L529.71,478.56L529.13,477.60L528.38,476.93L522.74,477.51L519.98,478.95Z" fill="#f4c9bd"/><path d="M489.82,481.90L498.67,481.27L509.55,480.23L514.89,479.61L516.10,478.41L519.55,475.86L521.77,473.71L523.71,472.64L524.56,469.94L516.52,471.01L498.48,472.52L498.56,473.45L492.68,473.90L492.17,475.49L492.03,476.55L491.13,478.69L490.84,480.79Z" fill="#e6a89f"/><path d="M492.68,473.90L498.56,473.45L498.48,472.52L516.52,471.01L519.38,468.53L521.55,466.38L522.73,465.21L521.21,464.07L519.73,462.33L519.55,461.04L517.74,459.67L515.41,460.40L512.90,459.67L511.55,458.52L510.29,458.67L510.29,458.67L509.36,460.35L508.23,461.01L507.04,463.39L506.23,464.89L504.27,465.61L501.92,466.52L499.93,465.65L498.15,466.69L498.15,466.69L498.00,468.27L496.14,470.62L494.14,471.29L493.84,472.77Z" fill="#b7393b"/><path d="M516.52,471.01L524.56,469.94L548.21,465.84L547.43,464.14L545.99,463.91L545.46,461.37L545.12,458.78L541.73,457.35L541.07,455.09L538.96,453.65L537.98,453.21L537.74,454.26L535.45,453.27L535.02,455.31L533.91,456.99L532.96,458.48L531.82,458.95L531.09,458.28L530.24,461.60L529.47,464.36L527.39,465.49L526.06,466.23L524.08,466.80L522.73,465.21L521.55,466.38L519.38,468.53Z" fill="#f4c9bd"/><path d="M547.54,458.53L549.03,457.77L548.13,460.26L547.23,462.85L546.78,461.35L546.81,458.95Z" fill="#f4c9bd"/><path d="M519.55,461.04L519.73,462.33L521.21,464.07L522.73,465.21L524.08,466.80L526.06,466.23L527.39,465.49L529.47,464.36L530.24,461.60L531.09,458.28L531.82,458.95L532.96,458.48L533.91,456.99L535.02,455.31L535.45,453.27L537.74,454.26L537.98,453.21L536.61,451.99L535.76,451.73L533.50,452.57L532.87,453.48L531.22,455.09L530.75,452.42L526.71,453.11L525.93,448.39L525.25,448.60L525.44,450.26L525.58,451.82L525.48,453.68L524.32,455.18L522.91,456.45L522.47,457.57L521.96,458.17L521.40,459.83L520.15,460.96Z" fill="#b53537"/><path d="M530.75,452.42L545.04,449.64L546.44,456.10L549.34,455.47L549.03,457.77L547.54,458.53L546.81,458.95L545.58,457.08L543.81,454.53L543.91,452.12L543.04,452.83L543.88,455.84L544.60,457.29L545.12,458.78L541.73,457.35L541.07,455.09L538.96,453.65L537.98,453.21L536.61,451.99L535.76,451.73L533.50,452.57L532.87,453.48L531.22,455.09Z" fill="#f8d1c5"/><path d="M545.04,449.64L546.37,448.93L546.10,450.05L547.01,451.45L548.94,453.69L549.34,455.47L546.44,456.10Z" fill="#f4f5f8"/><path d="M524.78,441.42L526.71,453.11L545.04,449.64L546.37,448.93L547.76,447.55L548.73,446.53L546.69,444.59L546.03,443.41L547.37,440.39L545.74,439.48L544.17,437.70L527.64,440.94L527.40,439.55Z" fill="#df9790"/><path d="M527.64,440.94L544.17,437.70L545.74,439.48L547.37,440.39L550.77,441.53L550.75,443.13L549.98,444.11L550.89,443.74L554.60,442.48L558.22,439.42L555.69,440.44L552.02,441.76L551.71,441.30L552.03,440.16L550.99,435.87L551.02,432.12L549.82,427.88L547.93,420.89L543.12,422.02L541.21,423.50L538.26,427.31L539.38,430.77L536.66,432.39L532.93,432.86L529.15,434.09L529.48,435.87L527.40,439.55Z" fill="#fcdcce"/><path d="M547.37,440.39L550.77,441.53L550.75,443.13L550.04,444.37L551.11,444.65L551.64,447.73L550.82,450.33L549.18,452.94L547.79,451.28L546.10,450.05L546.37,448.93L547.76,447.55L548.73,446.53L546.69,444.59L546.03,443.41Z" fill="#fad6c9"/><path d="M551.71,441.30L552.03,440.16L550.99,435.87L557.32,434.44L558.23,437.91L555.69,438.88L553.91,439.70Z" fill="#f4f5f8"/><path d="M557.32,434.44L558.88,434.04L560.54,436.39L559.97,435.47L559.32,437.52L558.23,437.91Z" fill="#f4f5f8"/><path d="M550.99,435.87L551.02,432.12L553.98,431.50L558.26,430.55L559.85,429.21L560.95,430.37L560.08,432.21L561.85,433.62L564.34,434.01L563.73,432.56L564.64,434.36L562.21,435.67L560.54,436.39L558.88,434.04L557.32,434.44Z" fill="#f4f5f8"/><path d="M551.02,432.12L553.98,431.50L553.21,427.57L553.44,423.24L554.47,419.19L547.93,420.89L549.82,427.88Z" fill="#fdded0"/><path d="M553.98,431.50L553.21,427.57L553.44,423.24L554.47,419.19L555.56,417.35L557.60,423.76L558.52,426.73L559.97,428.21L559.85,429.21L558.26,430.55Z" fill="#fad6c9"/><path d="M559.97,428.21L558.52,426.73L557.60,423.76L555.56,417.35L556.84,415.40L557.47,413.63L557.40,409.38L559.06,404.90L562.25,404.50L564.43,405.34L566.20,411.09L567.79,412.22L568.58,414.14L570.69,415.37L569.23,417.45L567.14,419.44L564.81,420.67L562.17,423.57L561.02,424.97Z" fill="#fdded0"/><path d="M501.04,445.76L508.77,445.24L513.89,444.44L514.81,442.64L516.86,439.48L516.94,437.37L515.94,434.37L513.99,432.55L512.37,433.03L510.94,435.05L512.31,431.22L512.26,428.09L509.33,425.35L506.66,424.38L505.79,426.30L504.21,428.56L502.45,429.27L501.86,432.44L503.08,437.00L502.76,441.20Z" fill="#e3a199"/><path d="M485.89,422.00L490.79,420.49L493.10,418.25L494.40,416.86L495.89,421.62L499.83,421.51L504.98,419.40L506.58,420.77L508.58,422.33L506.57,423.62L503.59,422.92L500.19,425.09L498.37,425.01L496.53,428.80L495.49,427.34L494.41,425.36L490.70,424.10L486.86,423.33Z" fill="#e3a199"/><path d="M485.89,422.00L486.86,423.33L490.70,424.10L494.41,425.36L495.49,427.34L496.53,428.80L496.02,431.44L497.93,428.16L497.22,432.37L496.80,436.04L496.37,439.72L496.97,442.27L486.22,442.98L484.41,441.83L483.76,437.97L481.07,434.47L479.53,432.98L477.65,431.76L477.77,429.95L477.50,427.38L479.21,424.74L479.10,421.91L479.79,421.37L483.66,420.42Z" fill="#f7cfc3"/><path d="M486.22,442.98L496.97,442.27L498.37,446.00L499.45,458.49L499.63,461.34L498.25,464.07L498.15,466.69L498.00,468.27L496.14,470.62L494.14,471.29L492.62,469.99L492.22,468.45L490.35,466.49L488.86,465.27L489.20,463.01L488.10,461.41L486.96,460.17L484.87,458.20L483.78,456.17L483.80,454.19L484.94,451.94L485.02,449.86L487.23,447.92L488.30,446.55L487.22,444.54L486.22,442.98Z" fill="#edb8ae"/><path d="M498.37,446.00L501.04,445.76L508.77,445.24L510.29,458.67L509.36,460.35L508.23,461.01L507.04,463.39L506.23,464.89L504.27,465.61L501.92,466.52L499.93,465.65L498.15,466.69L498.25,464.07L499.63,461.34L499.45,458.49Z" fill="#f2c3b8"/><path d="M508.77,445.24L513.89,444.44L516.91,445.24L520.71,444.68L523.09,442.48L524.79,441.52L525.93,448.39L525.25,448.60L525.44,450.26L525.58,451.82L525.48,453.68L524.32,455.18L522.91,456.45L522.47,457.57L521.96,458.17L521.40,459.83L520.15,460.96L519.55,461.04L517.74,459.67L515.41,460.40L512.90,459.67L511.55,458.52L510.29,458.67Z" fill="#f1c1b6"/><path d="M382.62,501.92L385.89,518.35L387.80,518.68L389.48,519.77L390.18,518.84L390.92,518.07L393.43,519.96L397.15,523.29L398.16,523.11L398.55,524.12L397.57,525.05L395.54,523.27L392.84,521.28L390.79,520.36L389.03,519.88L386.95,519.05L384.22,519.21L382.33,518.76L380.93,518.20L379.74,519.78L378.44,520.61L376.46,521.43L376.54,518.71L377.81,517.74L376.11,519.09L375.25,521.10L374.34,522.56L372.38,524.88L369.80,526.92L367.13,528.14L364.42,528.90L362.99,529.22L365.06,528.08L367.25,527.07L369.39,525.63L370.97,523.92L371.06,522.11L368.73,521.94L367.09,519.95L365.13,517.85L364.57,515.92L365.79,513.74L368.87,511.77L366.98,511.17L365.07,510.86L363.92,508.80L365.62,507.85L367.14,507.56L367.07,505.73L365.93,504.26L368.11,503.35L369.37,501.19L372.53,500.21L372.85,499.70L374.94,500.42L378.06,501.32L379.97,501.46Z" fill="#a50f15"/><path d="M427.38,527.54L426.86,525.89L425.51,524.87L423.85,524.88L422.51,525.91L422.00,527.58L422.52,529.24L423.88,530.26L425.54,530.25L426.88,529.21Z" fill="#f4f5f8"/><path d="M422.22,521.42L421.94,520.88L421.21,520.54L420.31,520.55L419.58,520.88L419.30,521.42L419.58,521.97L420.31,522.30L421.22,522.30L421.95,521.96Z" fill="#f4f5f8"/><path d="M414.10,518.09L413.85,517.49L413.17,517.12L412.33,517.11L411.65,517.48L411.39,518.08L411.64,518.69L412.32,519.06L413.16,519.06L413.84,518.69Z" fill="#f4f5f8"/><path d="M406.32,514.98L406.12,514.44L405.59,514.10L404.93,514.09L404.40,514.42L404.19,514.96L404.39,515.50L404.91,515.84L405.57,515.85L406.11,515.52Z" fill="#f4f5f8"/><path d="M418.57,519.79L418.34,519.58L417.73,519.45L416.98,519.45L416.37,519.58L416.14,519.79L416.37,520.00L416.98,520.13L417.73,520.13L418.34,520.00Z" fill="#f4f5f8"/><path d="M401.18,442.25L403.78,442.98L404.01,446.18L402.07,447.16L400.86,445.10Z" fill="#ffffff"/></g>
<defs><linearGradient id="gswr" x1="0" y1="1" x2="0" y2="0"><stop offset="0" stop-color="#fee0d2"/><stop offset="1" stop-color="#a50f15"/></linearGradient></defs>
<rect x="607.00" y="423.90" width="5.40" height="99.80" fill="url(#gswr)"/>
<text transform="translate(607.10,409.80) scale(1.0594,1)" x="-0.35 4.57 9.00 13.35 17.70 21.67 26.09 30.33 34.16 36.45 40.88 45.38" y="0" font-size="7.80" fill="#2a3f5f">Speeches per</text>
<text transform="translate(607.10,419.70) scale(1.0646,1)" x="-0.21 6.08 10.59 17.34 21.74 26.23 29.01 31.20 35.68 38.04 39.89 45.15 49.54 54.01 58.56 61.23 65.37 69.04" y="0" font-size="7.80" fill="#2a3f5f">Member of Congress</text>
<text transform="translate(614.20,434.10) scale(1.0939,1)" x="-0.00 3.81 7.62 9.52" y="0" font-size="6.85" fill="#2a3f5f">25.0</text>
<text transform="translate(614.20,453.25) scale(1.0939,1)" x="-0.00 3.81 7.62 9.52" y="0" font-size="6.85" fill="#2a3f5f">20.0</text>
<text transform="translate(614.20,472.40) scale(1.0939,1)" x="-0.00 3.81 7.62 9.52" y="0" font-size="6.85" fill="#2a3f5f">15.0</text>
<text transform="translate(614.20,491.55) scale(1.0939,1)" x="-0.00 3.81 7.62 9.52" y="0" font-size="6.85" fill="#2a3f5f">10.0</text>
<text transform="translate(614.20,510.70) scale(1.0939,1)" x="-0.00 3.81 5.71" y="0" font-size="6.85" fill="#2a3f5f">5.0</text>
<text transform="translate(87.56,587.50) scale(1.0540,1)" x="-0.17 6.14 11.18 16.29 21.43 23.59 28.54 33.28 37.54 42.05 44.32 46.51 48.67 53.64 58.52 63.67 65.69 70.12 72.65 75.67 78.13 84.54 89.80 97.52 102.52 107.20 110.39 115.74 118.48" y="0" font-size="8.95" fill="#303030" stroke="#303030" stroke-width="0.18">Need Fossil Fuels - Democrats</text>
<g stroke="#fff" stroke-width="0.5" stroke-linejoin="round"><path d="M10.56,630.51L14.31,632.88L15.94,633.52L14.78,638.09L16.48,638.57L17.87,633.11L18.03,629.45L37.08,634.32L34.17,647.20L34.08,649.39L26.86,647.70L24.91,647.75L21.16,647.85L18.57,647.69L15.78,646.92L13.41,645.99L13.02,643.46L10.14,641.80L9.70,641.40L10.58,637.91L10.64,634.71Z" fill="#dae8f5"/><path d="M10.14,641.80L13.02,643.46L13.41,645.99L15.78,646.92L18.57,647.69L21.16,647.85L24.91,647.75L26.86,647.70L34.08,649.39L35.18,651.74L33.37,654.52L31.14,657.72L31.19,660.38L29.13,669.49L2.63,662.49L2.62,658.15L5.61,654.19L8.85,645.45Z" fill="#f7f8fa"/><path d="M2.63,662.49L18.10,666.84L14.19,681.94L30.98,707.09L31.02,708.16L31.22,710.85L32.32,711.22L30.10,714.33L28.65,717.22L28.28,718.63L17.90,717.43L17.89,714.93L16.89,712.58L15.22,710.32L14.03,709.77L13.90,708.51L11.15,707.20L6.27,704.08L6.59,700.40L4.65,697.18L3.08,693.52L3.50,692.01L2.38,688.45L2.85,685.34L1.20,683.78L-0.16,678.49L0.81,673.90L-0.53,670.23L1.51,667.58L2.20,663.99Z" fill="#d8e6f4"/><path d="M18.10,666.84L40.31,671.81L34.59,701.43L34.25,701.90L31.71,701.93L30.98,707.09L14.19,681.94Z" fill="#d3e3f2"/><path d="M37.08,634.32L40.37,635.04L39.29,640.02L39.91,643.03L41.08,644.32L42.90,647.83L42.78,651.21L42.15,653.45L44.26,653.07L45.29,656.41L46.53,659.79L48.66,660.43L52.50,659.76L53.61,660.99L51.56,673.78L29.13,669.49L31.19,660.38L31.14,657.72L33.37,654.52L35.18,651.74L34.08,649.39L34.17,647.20Z" fill="#f7f8fa"/><path d="M40.37,635.04L81.16,641.08L79.41,661.53L54.02,658.44L53.61,660.99L52.50,659.76L48.66,660.43L46.53,659.79L45.29,656.41L44.26,653.07L42.15,653.45L42.78,651.21L42.90,647.83L41.08,644.32L39.91,643.03L39.29,640.02Z" fill="#b3cce5"/><path d="M54.02,658.44L79.41,661.53L77.65,682.18L50.74,678.91Z" fill="#f7f8fa"/><path d="M40.31,671.81L51.56,673.78L50.74,678.91L58.40,680.04L55.54,700.66L35.38,697.35Z" fill="#bcd2e8"/><path d="M58.40,680.04L85.38,682.75L84.05,703.52L55.54,700.66Z" fill="#d3e3f2"/><path d="M35.38,697.35L55.54,700.66L51.49,729.82L42.69,728.52L27.63,719.66L28.28,718.63L28.65,717.22L30.10,714.33L32.32,711.22L31.22,710.85L31.02,708.16L30.98,707.09L31.71,701.93L34.25,701.90L34.59,701.43Z" fill="#dce9f6"/><path d="M55.54,700.66L80.17,703.26L79.81,705.84L77.99,729.14L62.50,727.70L62.90,728.89L55.50,728.01L55.20,730.32L51.49,729.82Z" fill="#d1e2f2"/><path d="M81.16,641.08L104.58,642.22L104.99,644.78L105.82,649.39L106.67,654.52L106.79,657.92L79.83,656.70Z" fill="#6f9bc8"/><path d="M79.83,656.70L106.79,657.92L105.73,659.66L107.17,661.22L107.12,670.52L106.55,673.11L107.10,675.75L104.28,674.12L101.25,674.23L99.40,672.99L78.53,671.84Z" fill="#d8e6f4"/><path d="M78.53,671.84L99.40,672.99L101.25,674.23L104.28,674.12L107.10,675.75L108.04,678.30L108.81,680.90L109.19,683.49L109.59,685.57L111.52,688.68L85.05,687.94L85.38,682.75L77.65,682.18Z" fill="#f7f8fa"/><path d="M85.05,687.94L111.52,688.68L113.15,690.23L114.38,693.34L114.46,704.26L84.05,703.52Z" fill="#f7f8fa"/><path d="M80.17,703.26L114.46,704.26L115.37,712.58L115.31,721.72L110.94,720.42L106.67,720.94L103.68,720.91L100.71,720.08L96.49,718.68L93.56,717.54L91.90,716.64L92.32,706.56L79.81,705.84Z" fill="#bed4e9"/><path d="M79.81,705.84L92.32,706.56L91.90,716.64L93.56,717.54L96.49,718.68L100.71,720.08L103.68,720.91L106.67,720.94L110.94,720.42L115.31,721.72L117.20,722.16L117.37,730.19L118.48,732.76L119.64,735.31L119.07,738.95L118.51,742.06L114.67,743.93L112.88,745.24L108.81,747.83L105.15,749.87L102.82,752.93L102.29,757.02L103.40,761.38L101.75,761.87L98.49,760.53L94.34,758.37L92.66,753.19L89.16,748.93L87.54,744.73L84.13,740.94L80.10,740.69L78.68,741.62L76.65,744.58L74.48,743.38L72.76,742.20L70.30,739.40L68.86,735.64L65.64,732.20L62.90,728.89L62.50,727.70L77.99,729.14Z" fill="#b3cce5"/><path d="M104.58,642.22L111.73,642.24L111.71,640.31L112.91,640.70L113.64,643.74L116.43,644.61L119.19,644.13L122.70,645.27L126.93,646.35L131.49,646.58L128.13,648.84L124.74,651.59L122.69,653.47L122.00,654.01L122.11,656.84L120.40,659.48L120.67,662.05L120.55,663.86L122.43,665.08L123.97,666.57L126.66,670.07L107.12,670.52L107.17,661.22L105.73,659.66L106.79,657.92L106.67,654.52L105.82,649.39L104.99,644.78Z" fill="#dae8f5"/><path d="M107.12,670.52L126.66,670.07L127.31,673.93L129.12,675.08L130.12,676.64L131.20,678.65L130.13,680.02L127.92,681.96L127.84,684.04L126.70,686.29L125.44,685.15L109.70,685.68L109.59,685.57L109.19,683.49L108.81,680.90L108.04,678.30L107.10,675.75L106.55,673.11Z" fill="#dae8f5"/><path d="M109.70,685.68L125.44,685.15L126.70,686.29L126.68,688.27L127.77,690.30L129.86,692.27L131.00,693.51L132.10,695.11L131.76,697.37L133.25,698.59L135.12,700.55L135.52,702.09L137.04,703.39L136.74,704.87L135.58,706.00L135.07,707.59L134.93,708.65L132.11,708.82L132.91,706.17L114.49,706.87L114.46,704.26L114.38,693.34L113.15,690.23L111.52,688.68L109.59,685.57Z" fill="#dae8f5"/><path d="M114.49,706.87L132.91,706.17L132.11,708.82L134.93,708.65L134.03,710.79L133.74,712.89L132.72,714.00L131.65,716.66L130.31,719.34L129.59,721.97L129.64,724.57L117.26,725.01L117.20,722.16L115.31,721.72L115.37,712.58Z" fill="#d1e2f2"/><path d="M117.26,725.01L129.64,724.57L130.07,727.14L130.98,727.87L130.21,729.73L129.01,732.07L128.09,735.01L136.52,734.54L137.38,738.63L138.32,739.34L140.43,743.58L138.72,745.00L135.95,744.40L131.90,744.90L127.72,742.78L124.56,742.65L118.51,742.06L119.07,738.95L119.64,735.31L118.48,732.76L117.37,730.19Z" fill="#8db0d4"/><path d="M132.72,714.00L131.65,716.66L130.31,719.34L129.59,721.97L129.64,724.57L130.07,727.14L130.98,727.87L130.21,729.73L129.01,732.07L128.09,735.01L136.52,734.54L137.38,738.63L142.64,737.21L141.71,729.50L141.57,713.37Z" fill="#dae8f5"/><path d="M141.57,713.37L152.45,712.33L155.36,722.98L156.80,725.94L157.36,732.65L145.92,733.82L146.68,737.38L144.48,737.83L143.86,735.81L142.64,737.21L141.71,729.50Z" fill="#d8e6f4"/><path d="M152.45,712.33L162.88,711.05L162.05,712.74L164.71,715.00L167.68,717.72L169.42,720.61L172.03,723.36L174.46,724.82L173.61,727.83L173.14,731.99L170.86,733.22L170.78,734.22L169.96,733.25L158.16,734.12L157.36,732.65L156.80,725.94L155.36,722.98Z" fill="#d3e3f2"/><path d="M145.92,733.82L157.36,732.65L158.16,734.12L169.96,733.25L170.78,734.22L170.86,733.22L173.14,731.99L174.54,736.58L176.66,739.90L179.03,743.16L180.47,747.61L182.66,750.88L183.20,755.46L182.63,759.17L180.10,759.84L179.04,759.24L175.16,755.70L173.39,753.38L170.20,749.18L169.02,745.72L168.90,741.58L165.41,739.46L162.37,736.99L160.69,737.98L158.20,739.83L156.29,739.01L152.40,736.31L146.68,737.38Z" fill="#d1e2f2"/><path d="M162.88,711.05L165.64,709.61L171.28,709.03L172.03,709.70L172.61,710.66L177.18,709.90L182.85,713.85L180.73,717.71L178.20,720.79L174.46,724.82L172.03,723.36L169.42,720.61L167.68,717.72L164.71,715.00L162.05,712.74Z" fill="#d3e3f2"/><path d="M157.79,711.71L159.00,710.51L162.45,707.96L164.67,705.81L166.61,704.74L167.46,702.04L191.11,697.94L193.44,701.43L194.11,704.47L192.28,705.93L189.71,708.06L186.66,710.00L185.54,713.13L182.85,713.85L177.18,709.90L172.61,710.66L172.03,709.70L171.28,709.03L165.64,709.61L162.88,711.05Z" fill="#f7f8fa"/><path d="M132.72,714.00L141.57,713.37L152.45,712.33L157.79,711.71L159.00,710.51L162.45,707.96L164.67,705.81L166.61,704.74L167.46,702.04L159.42,703.11L141.38,704.62L141.46,705.55L135.58,706.00L135.07,707.59L134.93,708.65L134.03,710.79L133.74,712.89Z" fill="#dce9f6"/><path d="M135.58,706.00L141.46,705.55L141.38,704.62L159.42,703.11L162.28,700.63L164.45,698.48L165.63,697.31L164.11,696.17L162.63,694.43L162.45,693.14L160.64,691.77L158.31,692.50L155.80,691.77L154.45,690.62L153.19,690.77L153.19,690.77L152.26,692.45L151.13,693.11L149.94,695.49L149.13,696.99L147.17,697.71L144.82,698.62L142.83,697.75L141.05,698.79L141.05,698.79L140.90,700.37L139.04,702.72L137.04,703.39L136.74,704.87Z" fill="#f7f8fa"/><path d="M159.42,703.11L167.46,702.04L191.11,697.94L190.33,696.24L188.89,696.01L188.36,693.47L188.02,690.88L184.63,689.45L183.97,687.19L181.86,685.75L180.88,685.31L180.64,686.36L178.35,685.37L177.92,687.41L176.81,689.09L175.86,690.58L174.72,691.05L173.99,690.38L173.14,693.70L172.37,696.46L170.29,697.59L168.96,698.33L166.98,698.90L165.63,697.31L164.45,698.48L162.28,700.63Z" fill="#dae8f5"/><path d="M190.44,690.63L191.93,689.87L191.03,692.36L190.13,694.95L189.68,693.45L189.71,691.05Z" fill="#dae8f5"/><path d="M162.45,693.14L162.63,694.43L164.11,696.17L165.63,697.31L166.98,698.90L168.96,698.33L170.29,697.59L172.37,696.46L173.14,693.70L173.99,690.38L174.72,691.05L175.86,690.58L176.81,689.09L177.92,687.41L178.35,685.37L180.64,686.36L180.88,685.31L179.51,684.09L178.66,683.83L176.40,684.67L175.77,685.58L174.12,687.19L173.65,684.52L169.61,685.21L168.83,680.49L168.15,680.70L168.34,682.36L168.48,683.92L168.38,685.78L167.22,687.28L165.81,688.55L165.37,689.67L164.86,690.27L164.30,691.93L163.05,693.06Z" fill="#08519c"/><path d="M173.65,684.52L187.94,681.74L189.34,688.20L192.24,687.57L191.93,689.87L190.44,690.63L189.71,691.05L188.48,689.18L186.71,686.63L186.81,684.22L185.94,684.93L186.78,687.94L187.50,689.39L188.02,690.88L184.63,689.45L183.97,687.19L181.86,685.75L180.88,685.31L179.51,684.09L178.66,683.83L176.40,684.67L175.77,685.58L174.12,687.19Z" fill="#d8e6f4"/><path d="M187.94,681.74L189.27,681.03L189.00,682.15L189.91,683.55L191.84,685.79L192.24,687.57L189.34,688.20Z" fill="#d8e6f4"/><path d="M167.68,673.52L169.61,685.21L187.94,681.74L189.27,681.03L190.66,679.65L191.63,678.63L189.59,676.69L188.93,675.51L190.27,672.49L188.64,671.58L187.07,669.80L170.54,673.04L170.30,671.65Z" fill="#cddff0"/><path d="M170.54,673.04L187.07,669.80L188.64,671.58L190.27,672.49L193.67,673.63L193.65,675.23L192.88,676.21L193.79,675.84L197.50,674.58L201.12,671.52L198.59,672.54L194.92,673.86L194.61,673.40L194.93,672.26L193.89,667.97L193.92,664.22L192.72,659.98L190.83,652.99L186.02,654.12L184.11,655.60L181.16,659.41L182.28,662.87L179.56,664.49L175.83,664.96L172.05,666.19L172.38,667.97L170.30,671.65Z" fill="#dae8f5"/><path d="M190.27,672.49L193.67,673.63L193.65,675.23L192.94,676.47L194.01,676.75L194.54,679.83L193.72,682.43L192.08,685.04L190.69,683.38L189.00,682.15L189.27,681.03L190.66,679.65L191.63,678.63L189.59,676.69L188.93,675.51Z" fill="#d8e6f4"/><path d="M194.61,673.40L194.93,672.26L193.89,667.97L200.22,666.54L201.13,670.01L198.59,670.98L196.81,671.80Z" fill="#d8e6f4"/><path d="M200.22,666.54L201.78,666.14L203.44,668.49L202.87,667.57L202.22,669.62L201.13,670.01Z" fill="#d8e6f4"/><path d="M193.89,667.97L193.92,664.22L196.88,663.60L201.16,662.65L202.75,661.31L203.85,662.47L202.98,664.31L204.75,665.72L207.24,666.11L206.63,664.66L207.54,666.46L205.11,667.77L203.44,668.49L201.78,666.14L200.22,666.54Z" fill="#dae8f5"/><path d="M193.92,664.22L196.88,663.60L196.11,659.67L196.34,655.34L197.37,651.29L190.83,652.99L192.72,659.98Z" fill="#d8e6f4"/><path d="M196.88,663.60L196.11,659.67L196.34,655.34L197.37,651.29L198.46,649.45L200.50,655.86L201.42,658.83L202.87,660.31L202.75,661.31L201.16,662.65Z" fill="#dae8f5"/><path d="M202.87,660.31L201.42,658.83L200.50,655.86L198.46,649.45L199.74,647.50L200.37,645.73L200.30,641.48L201.96,637.00L205.15,636.60L207.33,637.44L209.10,643.19L210.69,644.32L211.48,646.24L213.59,647.47L212.13,649.55L210.04,651.54L207.71,652.77L205.07,655.67L203.92,657.07Z" fill="#f7f8fa"/><path d="M143.94,677.86L151.67,677.34L156.79,676.54L157.71,674.74L159.76,671.58L159.84,669.47L158.84,666.47L156.89,664.65L155.27,665.13L153.84,667.15L155.21,663.32L155.16,660.19L152.23,657.45L149.56,656.48L148.69,658.40L147.11,660.66L145.35,661.37L144.76,664.54L145.98,669.10L145.66,673.30Z" fill="#dce9f6"/><path d="M128.79,654.10L133.69,652.59L136.00,650.35L137.30,648.96L138.79,653.72L142.73,653.61L147.88,651.50L149.48,652.87L151.48,654.43L149.47,655.72L146.49,655.02L143.09,657.19L141.27,657.11L139.43,660.90L138.39,659.44L137.31,657.46L133.60,656.20L129.76,655.43Z" fill="#dce9f6"/><path d="M128.79,654.10L129.76,655.43L133.60,656.20L137.31,657.46L138.39,659.44L139.43,660.90L138.92,663.54L140.83,660.26L140.12,664.47L139.70,668.14L139.27,671.82L139.87,674.37L129.12,675.08L127.31,673.93L126.66,670.07L123.97,666.57L122.43,665.08L120.55,663.86L120.67,662.05L120.40,659.48L122.11,656.84L122.00,654.01L122.69,653.47L126.56,652.52Z" fill="#f7f8fa"/><path d="M129.12,675.08L139.87,674.37L141.27,678.10L142.35,690.59L142.53,693.44L141.15,696.17L141.05,698.79L140.90,700.37L139.04,702.72L137.04,703.39L135.52,702.09L135.12,700.55L133.25,698.59L131.76,697.37L132.10,695.11L131.00,693.51L129.86,692.27L127.77,690.30L126.68,688.27L126.70,686.29L127.84,684.04L127.92,681.96L130.13,680.02L131.20,678.65L130.12,676.64L129.12,675.08Z" fill="#cddff0"/><path d="M141.27,678.10L143.94,677.86L151.67,677.34L153.19,690.77L152.26,692.45L151.13,693.11L149.94,695.49L149.13,696.99L147.17,697.71L144.82,698.62L142.83,697.75L141.05,698.79L141.15,696.17L142.53,693.44L142.35,690.59Z" fill="#d3e3f2"/><path d="M151.67,677.34L156.79,676.54L159.81,677.34L163.61,676.78L165.99,674.58L167.69,673.62L168.83,680.49L168.15,680.70L168.34,682.36L168.48,683.92L168.38,685.78L167.22,687.28L165.81,688.55L165.37,689.67L164.86,690.27L164.30,691.93L163.05,693.06L162.45,693.14L160.64,691.77L158.31,692.50L155.80,691.77L154.45,690.62L153.19,690.77Z" fill="#cddff0"/><path d="M25.52,734.02L28.79,750.45L30.70,750.78L32.38,751.87L33.08,750.94L33.82,750.17L36.33,752.06L40.05,755.39L41.06,755.21L41.45,756.22L40.47,757.15L38.44,755.37L35.74,753.38L33.69,752.46L31.93,751.98L29.85,751.15L27.12,751.31L25.23,750.86L23.83,750.30L22.64,751.88L21.34,752.71L19.36,753.53L19.44,750.81L20.71,749.84L19.01,751.19L18.15,753.20L17.24,754.66L15.28,756.98L12.70,759.02L10.03,760.24L7.32,761.00L5.89,761.32L7.96,760.18L10.15,759.17L12.29,757.73L13.87,756.02L13.96,754.21L11.63,754.04L9.99,752.05L8.03,749.95L7.47,748.02L8.69,745.84L11.77,743.87L9.88,743.27L7.97,742.96L6.82,740.90L8.52,739.95L10.04,739.66L9.97,737.83L8.83,736.36L11.01,735.45L12.27,733.29L15.43,732.31L15.75,731.80L17.84,732.52L20.96,733.42L22.87,733.56Z" fill="#97b8d9"/><path d="M70.28,759.64L69.76,757.99L68.41,756.97L66.75,756.98L65.41,758.01L64.90,759.68L65.42,761.34L66.78,762.36L68.44,762.35L69.78,761.31Z" fill="#d1e2f2"/><path d="M65.12,753.52L64.84,752.98L64.11,752.64L63.21,752.65L62.48,752.98L62.20,753.52L62.48,754.07L63.21,754.40L64.12,754.40L64.85,754.06Z" fill="#d1e2f2"/><path d="M57.00,750.19L56.75,749.59L56.07,749.22L55.23,749.21L54.55,749.58L54.29,750.18L54.54,750.79L55.22,751.16L56.06,751.16L56.74,750.79Z" fill="#d1e2f2"/><path d="M49.22,747.08L49.02,746.54L48.49,746.20L47.83,746.19L47.30,746.52L47.09,747.06L47.29,747.60L47.81,747.94L48.47,747.95L49.01,747.62Z" fill="#d1e2f2"/><path d="M61.47,751.89L61.24,751.68L60.63,751.55L59.88,751.55L59.27,751.68L59.04,751.89L59.27,752.10L59.88,752.23L60.63,752.23L61.24,752.10Z" fill="#d1e2f2"/><path d="M44.08,674.35L46.68,675.08L46.91,678.28L44.97,679.26L43.76,677.20Z" fill="#ffffff"/></g>
<defs><linearGradient id="gnfd" x1="0" y1="1" x2="0" y2="0"><stop offset="0" stop-color="#deebf7"/><stop offset="1" stop-color="#08519c"/></linearGradient></defs>
<rect x="249.90" y="656.00" width="5.40" height="99.80" fill="url(#gnfd)"/>
<text transform="translate(250.00,641.90) scale(1.0594,1)" x="-0.35 4.57 9.00 13.35 17.70 21.67 26.09 30.33 34.16 36.45 40.88 45.38" y="0" font-size="7.80" fill="#2a3f5f">Speeches per</text>
<text transform="translate(250.00,651.80) scale(1.0646,1)" x="-0.21 6.08 10.59 17.34 21.74 26.23 29.01 31.20 35.68 38.04 39.89 45.15 49.54 54.01 58.56 61.23 65.37 69.04" y="0" font-size="7.80" fill="#2a3f5f">Member of Congress</text>
<text transform="translate(257.10,674.00) scale(1.0939,1)" x="-0.00 3.81 5.71" y="0" font-size="6.85" fill="#2a3f5f">8.0</text>
<text transform="translate(257.10,695.40) scale(1.0939,1)" x="-0.00 3.81 5.71" y="0" font-size="6.85" fill="#2a3f5f">6.0</text>
<text transform="translate(257.10,716.80) scale(1.0939,1)" x="-0.00 3.81 5.71" y="0" font-size="6.85" fill="#2a3f5f">4.0</text>
<text transform="translate(257.10,738.20) scale(1.0939,1)" x="-0.00 3.81 5.71" y="0" font-size="6.85" fill="#2a3f5f">2.0</text>
<text transform="translate(442.14,587.50) scale(1.0441,1)" x="-0.14 6.23 11.31 16.47 21.65 23.84 28.84 33.62 37.92 42.46 44.76 46.97 49.16 54.17 59.10 64.28 66.34 70.80 73.35 76.40 78.59 84.56 89.53 94.77 100.01 105.27 107.56 109.74 114.28 119.43 124.45" y="0" font-size="8.95" fill="#303030" stroke="#303030" stroke-width="0.18">Need Fossil Fuels - Republicans</text>
<g stroke="#fff" stroke-width="0.5" stroke-linejoin="round"><path d="M367.66,630.51L371.41,632.88L373.04,633.52L371.88,638.09L373.58,638.57L374.97,633.11L375.13,629.45L394.18,634.32L391.27,647.20L391.18,649.39L383.96,647.70L382.01,647.75L378.26,647.85L375.67,647.69L372.88,646.92L370.51,645.99L370.12,643.46L367.24,641.80L366.80,641.40L367.68,637.91L367.74,634.71Z" fill="#f2c3b8"/><path d="M367.24,641.80L370.12,643.46L370.51,645.99L372.88,646.92L375.67,647.69L378.26,647.85L382.01,647.75L383.96,647.70L391.18,649.39L392.28,651.74L390.47,654.52L388.24,657.72L388.29,660.38L386.23,669.49L359.73,662.49L359.72,658.15L362.71,654.19L365.95,645.45Z" fill="#fee0d2"/><path d="M359.73,662.49L375.20,666.84L371.29,681.94L388.08,707.09L388.12,708.16L388.32,710.85L389.42,711.22L387.20,714.33L385.75,717.22L385.38,718.63L375.00,717.43L374.99,714.93L373.99,712.58L372.32,710.32L371.13,709.77L371.00,708.51L368.25,707.20L363.37,704.08L363.69,700.40L361.75,697.18L360.18,693.52L360.60,692.01L359.48,688.45L359.95,685.34L358.30,683.78L356.94,678.49L357.91,673.90L356.57,670.23L358.61,667.58L359.30,663.99Z" fill="#f5cbbf"/><path d="M375.20,666.84L397.41,671.81L391.69,701.43L391.35,701.90L388.81,701.93L388.08,707.09L371.29,681.94Z" fill="#fad6c9"/><path d="M394.18,634.32L397.47,635.04L396.39,640.02L397.01,643.03L398.18,644.32L400.00,647.83L399.88,651.21L399.25,653.45L401.36,653.07L402.39,656.41L403.63,659.79L405.76,660.43L409.60,659.76L410.71,660.99L408.66,673.78L386.23,669.49L388.29,660.38L388.24,657.72L390.47,654.52L392.28,651.74L391.18,649.39L391.27,647.20Z" fill="#f0bfb4"/><path d="M397.47,635.04L438.26,641.08L436.51,661.53L411.12,658.44L410.71,660.99L409.60,659.76L405.76,660.43L403.63,659.79L402.39,656.41L401.36,653.07L399.25,653.45L399.88,651.21L400.00,647.83L398.18,644.32L397.01,643.03L396.39,640.02Z" fill="#eebab0"/><path d="M411.12,658.44L436.51,661.53L434.75,682.18L407.84,678.91Z" fill="#d98883"/><path d="M397.41,671.81L408.66,673.78L407.84,678.91L415.50,680.04L412.64,700.66L392.48,697.35Z" fill="#f2c3b8"/><path d="M415.50,680.04L442.48,682.75L441.15,703.52L412.64,700.66Z" fill="#eebab0"/><path d="M392.48,697.35L412.64,700.66L408.59,729.82L399.79,728.52L384.73,719.66L385.38,718.63L385.75,717.22L387.20,714.33L389.42,711.22L388.32,710.85L388.12,708.16L388.08,707.09L388.81,701.93L391.35,701.90L391.69,701.43Z" fill="#f7cfc3"/><path d="M412.64,700.66L437.27,703.26L436.91,705.84L435.09,729.14L419.60,727.70L420.00,728.89L412.60,728.01L412.30,730.32L408.59,729.82Z" fill="#e6a89f"/><path d="M438.26,641.08L461.68,642.22L462.09,644.78L462.92,649.39L463.77,654.52L463.89,657.92L436.93,656.70Z" fill="#c75e5d"/><path d="M436.93,656.70L463.89,657.92L462.83,659.66L464.27,661.22L464.22,670.52L463.65,673.11L464.20,675.75L461.38,674.12L458.35,674.23L456.50,672.99L435.63,671.84Z" fill="#f4c9bd"/><path d="M435.63,671.84L456.50,672.99L458.35,674.23L461.38,674.12L464.20,675.75L465.14,678.30L465.91,680.90L466.29,683.49L466.69,685.57L468.62,688.68L442.15,687.94L442.48,682.75L434.75,682.18Z" fill="#f7cfc3"/><path d="M442.15,687.94L468.62,688.68L470.25,690.23L471.48,693.34L471.56,704.26L441.15,703.52Z" fill="#f9d3c7"/><path d="M437.27,703.26L471.56,704.26L472.47,712.58L472.41,721.72L468.04,720.42L463.77,720.94L460.78,720.91L457.81,720.08L453.59,718.68L450.66,717.54L449.00,716.64L449.42,706.56L436.91,705.84Z" fill="#ecb6ac"/><path d="M436.91,705.84L449.42,706.56L449.00,716.64L450.66,717.54L453.59,718.68L457.81,720.08L460.78,720.91L463.77,720.94L468.04,720.42L472.41,721.72L474.30,722.16L474.47,730.19L475.58,732.76L476.74,735.31L476.17,738.95L475.61,742.06L471.77,743.93L469.98,745.24L465.91,747.83L462.25,749.87L459.92,752.93L459.39,757.02L460.50,761.38L458.85,761.87L455.59,760.53L451.44,758.37L449.76,753.19L446.26,748.93L444.64,744.73L441.23,740.94L437.20,740.69L435.78,741.62L433.75,744.58L431.58,743.38L429.86,742.20L427.40,739.40L425.96,735.64L422.74,732.20L420.00,728.89L419.60,727.70L435.09,729.14Z" fill="#eebab0"/><path d="M461.68,642.22L468.83,642.24L468.81,640.31L470.01,640.70L470.74,643.74L473.53,644.61L476.29,644.13L479.80,645.27L484.03,646.35L488.59,646.58L485.23,648.84L481.84,651.59L479.79,653.47L479.10,654.01L479.21,656.84L477.50,659.48L477.77,662.05L477.65,663.86L479.53,665.08L481.07,666.57L483.76,670.07L464.22,670.52L464.27,661.22L462.83,659.66L463.89,657.92L463.77,654.52L462.92,649.39L462.09,644.78Z" fill="#f6cdc1"/><path d="M464.22,670.52L483.76,670.07L484.41,673.93L486.22,675.08L487.22,676.64L488.30,678.65L487.23,680.02L485.02,681.96L484.94,684.04L483.80,686.29L482.54,685.15L466.80,685.68L466.69,685.57L466.29,683.49L465.91,680.90L465.14,678.30L464.20,675.75L463.65,673.11Z" fill="#f7cfc3"/><path d="M466.80,685.68L482.54,685.15L483.80,686.29L483.78,688.27L484.87,690.30L486.96,692.27L488.10,693.51L489.20,695.11L488.86,697.37L490.35,698.59L492.22,700.55L492.62,702.09L494.14,703.39L493.84,704.87L492.68,706.00L492.17,707.59L492.03,708.65L489.21,708.82L490.01,706.17L471.59,706.87L471.56,704.26L471.48,693.34L470.25,690.23L468.62,688.68L466.69,685.57Z" fill="#f7cfc3"/><path d="M471.59,706.87L490.01,706.17L489.21,708.82L492.03,708.65L491.13,710.79L490.84,712.89L489.82,714.00L488.75,716.66L487.41,719.34L486.69,721.97L486.74,724.57L474.36,725.01L474.30,722.16L472.41,721.72L472.47,712.58Z" fill="#f7cfc3"/><path d="M474.36,725.01L486.74,724.57L487.17,727.14L488.08,727.87L487.31,729.73L486.11,732.07L485.19,735.01L493.62,734.54L494.48,738.63L495.42,739.34L497.53,743.58L495.82,745.00L493.05,744.40L489.00,744.90L484.82,742.78L481.66,742.65L475.61,742.06L476.17,738.95L476.74,735.31L475.58,732.76L474.47,730.19Z" fill="#eebab0"/><path d="M489.82,714.00L488.75,716.66L487.41,719.34L486.69,721.97L486.74,724.57L487.17,727.14L488.08,727.87L487.31,729.73L486.11,732.07L485.19,735.01L493.62,734.54L494.48,738.63L499.74,737.21L498.81,729.50L498.67,713.37Z" fill="#f9d3c7"/><path d="M498.67,713.37L509.55,712.33L512.46,722.98L513.90,725.94L514.46,732.65L503.02,733.82L503.78,737.38L501.58,737.83L500.96,735.81L499.74,737.21L498.81,729.50Z" fill="#f7cfc3"/><path d="M509.55,712.33L519.98,711.05L519.15,712.74L521.81,715.00L524.78,717.72L526.52,720.61L529.13,723.36L531.56,724.82L530.71,727.83L530.24,731.99L527.96,733.22L527.88,734.22L527.06,733.25L515.26,734.12L514.46,732.65L513.90,725.94L512.46,722.98Z" fill="#f4c9bd"/><path d="M503.02,733.82L514.46,732.65L515.26,734.12L527.06,733.25L527.88,734.22L527.96,733.22L530.24,731.99L531.64,736.58L533.76,739.90L536.13,743.16L537.57,747.61L539.76,750.88L540.30,755.46L539.73,759.17L537.20,759.84L536.14,759.24L532.26,755.70L530.49,753.38L527.30,749.18L526.12,745.72L526.00,741.58L522.51,739.46L519.47,736.99L517.79,737.98L515.30,739.83L513.39,739.01L509.50,736.31L503.78,737.38Z" fill="#fad8ca"/><path d="M519.98,711.05L522.74,709.61L528.38,709.03L529.13,709.70L529.71,710.66L534.28,709.90L539.95,713.85L537.83,717.71L535.30,720.79L531.56,724.82L529.13,723.36L526.52,720.61L524.78,717.72L521.81,715.00L519.15,712.74Z" fill="#f0bfb4"/><path d="M514.89,711.71L516.10,710.51L519.55,707.96L521.77,705.81L523.71,704.74L524.56,702.04L548.21,697.94L550.54,701.43L551.21,704.47L549.38,705.93L546.81,708.06L543.76,710.00L542.64,713.13L539.95,713.85L534.28,709.90L529.71,710.66L529.13,709.70L528.38,709.03L522.74,709.61L519.98,711.05Z" fill="#f9d3c7"/><path d="M489.82,714.00L498.67,713.37L509.55,712.33L514.89,711.71L516.10,710.51L519.55,707.96L521.77,705.81L523.71,704.74L524.56,702.04L516.52,703.11L498.48,704.62L498.56,705.55L492.68,706.00L492.17,707.59L492.03,708.65L491.13,710.79L490.84,712.89Z" fill="#f7cfc3"/><path d="M492.68,706.00L498.56,705.55L498.48,704.62L516.52,703.11L519.38,700.63L521.55,698.48L522.73,697.31L521.21,696.17L519.73,694.43L519.55,693.14L517.74,691.77L515.41,692.50L512.90,691.77L511.55,690.62L510.29,690.77L510.29,690.77L509.36,692.45L508.23,693.11L507.04,695.49L506.23,696.99L504.27,697.71L501.92,698.62L499.93,697.75L498.15,698.79L498.15,698.79L498.00,700.37L496.14,702.72L494.14,703.39L493.84,704.87Z" fill="#edb8ae"/><path d="M516.52,703.11L524.56,702.04L548.21,697.94L547.43,696.24L545.99,696.01L545.46,693.47L545.12,690.88L541.73,689.45L541.07,687.19L538.96,685.75L537.98,685.31L537.74,686.36L535.45,685.37L535.02,687.41L533.91,689.09L532.96,690.58L531.82,691.05L531.09,690.38L530.24,693.70L529.47,696.46L527.39,697.59L526.06,698.33L524.08,698.90L522.73,697.31L521.55,698.48L519.38,700.63Z" fill="#f7cfc3"/><path d="M547.54,690.63L549.03,689.87L548.13,692.36L547.23,694.95L546.78,693.45L546.81,691.05Z" fill="#f7cfc3"/><path d="M519.55,693.14L519.73,694.43L521.21,696.17L522.73,697.31L524.08,698.90L526.06,698.33L527.39,697.59L529.47,696.46L530.24,693.70L531.09,690.38L531.82,691.05L532.96,690.58L533.91,689.09L535.02,687.41L535.45,685.37L537.74,686.36L537.98,685.31L536.61,684.09L535.76,683.83L533.50,684.67L532.87,685.58L531.22,687.19L530.75,684.52L526.71,685.21L525.93,680.49L525.25,680.70L525.44,682.36L525.58,683.92L525.48,685.78L524.32,687.28L522.91,688.55L522.47,689.67L521.96,690.27L521.40,691.93L520.15,693.06Z" fill="#d88681"/><path d="M530.75,684.52L545.04,681.74L546.44,688.20L549.34,687.57L549.03,689.87L547.54,690.63L546.81,691.05L545.58,689.18L543.81,686.63L543.91,684.22L543.04,684.93L543.88,687.94L544.60,689.39L545.12,690.88L541.73,689.45L541.07,687.19L538.96,685.75L537.98,685.31L536.61,684.09L535.76,683.83L533.50,684.67L532.87,685.58L531.22,687.19Z" fill="#fad8ca"/><path d="M545.04,681.74L546.37,681.03L546.10,682.15L547.01,683.55L548.94,685.79L549.34,687.57L546.44,688.20Z" fill="#f4f5f8"/><path d="M524.78,673.52L526.71,685.21L545.04,681.74L546.37,681.03L547.76,679.65L548.73,678.63L546.69,676.69L546.03,675.51L547.37,672.49L545.74,671.58L544.17,669.80L527.64,673.04L527.40,671.65Z" fill="#eebab0"/><path d="M527.64,673.04L544.17,669.80L545.74,671.58L547.37,672.49L550.77,673.63L550.75,675.23L549.98,676.21L550.89,675.84L554.60,674.58L558.22,671.52L555.69,672.54L552.02,673.86L551.71,673.40L552.03,672.26L550.99,667.97L551.02,664.22L549.82,659.98L547.93,652.99L543.12,654.12L541.21,655.60L538.26,659.41L539.38,662.87L536.66,664.49L532.93,664.96L529.15,666.19L529.48,667.97L527.40,671.65Z" fill="#fdded0"/><path d="M547.37,672.49L550.77,673.63L550.75,675.23L550.04,676.47L551.11,676.75L551.64,679.83L550.82,682.43L549.18,685.04L547.79,683.38L546.10,682.15L546.37,681.03L547.76,679.65L548.73,678.63L546.69,676.69L546.03,675.51Z" fill="#fad8ca"/><path d="M551.71,673.40L552.03,672.26L550.99,667.97L557.32,666.54L558.23,670.01L555.69,670.98L553.91,671.80Z" fill="#fbdacc"/><path d="M557.32,666.54L558.88,666.14L560.54,668.49L559.97,667.57L559.32,669.62L558.23,670.01Z" fill="#f4f5f8"/><path d="M550.99,667.97L551.02,664.22L553.98,663.60L558.26,662.65L559.85,661.31L560.95,662.47L560.08,664.31L561.85,665.72L564.34,666.11L563.73,664.66L564.64,666.46L562.21,667.77L560.54,668.49L558.88,666.14L557.32,666.54Z" fill="#f4f5f8"/><path d="M551.02,664.22L553.98,663.60L553.21,659.67L553.44,655.34L554.47,651.29L547.93,652.99L549.82,659.98Z" fill="#f4f5f8"/><path d="M553.98,663.60L553.21,659.67L553.44,655.34L554.47,651.29L555.56,649.45L557.60,655.86L558.52,658.83L559.97,660.31L559.85,661.31L558.26,662.65Z" fill="#fbdacc"/><path d="M559.97,660.31L558.52,658.83L557.60,655.86L555.56,649.45L556.84,647.50L557.47,645.73L557.40,641.48L559.06,637.00L562.25,636.60L564.43,637.44L566.20,643.19L567.79,644.32L568.58,646.24L570.69,647.47L569.23,649.55L567.14,651.54L564.81,652.77L562.17,655.67L561.02,657.07Z" fill="#fdded0"/><path d="M501.04,677.86L508.77,677.34L513.89,676.54L514.81,674.74L516.86,671.58L516.94,669.47L515.94,666.47L513.99,664.65L512.37,665.13L510.94,667.15L512.31,663.32L512.26,660.19L509.33,657.45L506.66,656.48L505.79,658.40L504.21,660.66L502.45,661.37L501.86,664.54L503.08,669.10L502.76,673.30Z" fill="#f6cdc1"/><path d="M485.89,654.10L490.79,652.59L493.10,650.35L494.40,648.96L495.89,653.72L499.83,653.61L504.98,651.50L506.58,652.87L508.58,654.43L506.57,655.72L503.59,655.02L500.19,657.19L498.37,657.11L496.53,660.90L495.49,659.44L494.41,657.46L490.70,656.20L486.86,655.43Z" fill="#f6cdc1"/><path d="M485.89,654.10L486.86,655.43L490.70,656.20L494.41,657.46L495.49,659.44L496.53,660.90L496.02,663.54L497.93,660.26L497.22,664.47L496.80,668.14L496.37,671.82L496.97,674.37L486.22,675.08L484.41,673.93L483.76,670.07L481.07,666.57L479.53,665.08L477.65,663.86L477.77,662.05L477.50,659.48L479.21,656.84L479.10,654.01L479.79,653.47L483.66,652.52Z" fill="#fdded0"/><path d="M486.22,675.08L496.97,674.37L498.37,678.10L499.45,690.59L499.63,693.44L498.25,696.17L498.15,698.79L498.00,700.37L496.14,702.72L494.14,703.39L492.62,702.09L492.22,700.55L490.35,698.59L488.86,697.37L489.20,695.11L488.10,693.51L486.96,692.27L484.87,690.30L483.78,688.27L483.80,686.29L484.94,684.04L485.02,681.96L487.23,680.02L488.30,678.65L487.22,676.64L486.22,675.08Z" fill="#f2c3b8"/><path d="M498.37,678.10L501.04,677.86L508.77,677.34L510.29,690.77L509.36,692.45L508.23,693.11L507.04,695.49L506.23,696.99L504.27,697.71L501.92,698.62L499.93,697.75L498.15,698.79L498.25,696.17L499.63,693.44L499.45,690.59Z" fill="#f7cfc3"/><path d="M508.77,677.34L513.89,676.54L516.91,677.34L520.71,676.78L523.09,674.58L524.79,673.62L525.93,680.49L525.25,680.70L525.44,682.36L525.58,683.92L525.48,685.78L524.32,687.28L522.91,688.55L522.47,689.67L521.96,690.27L521.40,691.93L520.15,693.06L519.55,693.14L517.74,691.77L515.41,692.50L512.90,691.77L511.55,690.62L510.29,690.77Z" fill="#f7cfc3"/><path d="M382.62,734.02L385.89,750.45L387.80,750.78L389.48,751.87L390.18,750.94L390.92,750.17L393.43,752.06L397.15,755.39L398.16,755.21L398.55,756.22L397.57,757.15L395.54,755.37L392.84,753.38L390.79,752.46L389.03,751.98L386.95,751.15L384.22,751.31L382.33,750.86L380.93,750.30L379.74,751.88L378.44,752.71L376.46,753.53L376.54,750.81L377.81,749.84L376.11,751.19L375.25,753.20L374.34,754.66L372.38,756.98L369.80,759.02L367.13,760.24L364.42,761.00L362.99,761.32L365.06,760.18L367.25,759.17L369.39,757.73L370.97,756.02L371.06,754.21L368.73,754.04L367.09,752.05L365.13,749.95L364.57,748.02L365.79,745.84L368.87,743.87L366.98,743.27L365.07,742.96L363.92,740.90L365.62,739.95L367.14,739.66L367.07,737.83L365.93,736.36L368.11,735.45L369.37,733.29L372.53,732.31L372.85,731.80L374.94,732.52L378.06,733.42L379.97,733.56Z" fill="#a50f15"/><path d="M427.38,759.64L426.86,757.99L425.51,756.97L423.85,756.98L422.51,758.01L422.00,759.68L422.52,761.34L423.88,762.36L425.54,762.35L426.88,761.31Z" fill="#f4f5f8"/><path d="M422.22,753.52L421.94,752.98L421.21,752.64L420.31,752.65L419.58,752.98L419.30,753.52L419.58,754.07L420.31,754.40L421.22,754.40L421.95,754.06Z" fill="#f4f5f8"/><path d="M414.10,750.19L413.85,749.59L413.17,749.22L412.33,749.21L411.65,749.58L411.39,750.18L411.64,750.79L412.32,751.16L413.16,751.16L413.84,750.79Z" fill="#f4f5f8"/><path d="M406.32,747.08L406.12,746.54L405.59,746.20L404.93,746.19L404.40,746.52L404.19,747.06L404.39,747.60L404.91,747.94L405.57,747.95L406.11,747.62Z" fill="#f4f5f8"/><path d="M418.57,751.89L418.34,751.68L417.73,751.55L416.98,751.55L416.37,751.68L416.14,751.89L416.37,752.10L416.98,752.23L417.73,752.23L418.34,752.10Z" fill="#f4f5f8"/><path d="M401.18,674.35L403.78,675.08L404.01,678.28L402.07,679.26L400.86,677.20Z" fill="#ffffff"/></g>
<defs><linearGradient id="gnfr" x1="0" y1="1" x2="0" y2="0"><stop offset="0" stop-color="#fee0d2"/><stop offset="1" stop-color="#a50f15"/></linearGradient></defs>
<rect x="607.00" y="656.00" width="5.40" height="99.80" fill="url(#gnfr)"/>
<text transform="translate(607.10,641.90) scale(1.0594,1)" x="-0.35 4.57 9.00 13.35 17.70 21.67 26.09 30.33 34.16 36.45 40.88 45.38" y="0" font-size="7.80" fill="#2a3f5f">Speeches per</text>
<text transform="translate(607.10,651.80) scale(1.0646,1)" x="-0.21 6.08 10.59 17.34 21.74 26.23 29.01 31.20 35.68 38.04 39.89 45.15 49.54 54.01 58.56 61.23 65.37 69.04" y="0" font-size="7.80" fill="#2a3f5f">Member of Congress</text>
<text transform="translate(614.20,659.20) scale(1.0939,1)" x="-0.00 3.81 7.62 9.52" y="0" font-size="6.85" fill="#2a3f5f">40.0</text>
<text transform="translate(614.20,684.23) scale(1.0939,1)" x="-0.00 3.81 7.62 9.52" y="0" font-size="6.85" fill="#2a3f5f">30.0</text>
<text transform="translate(614.20,709.26) scale(1.0939,1)" x="-0.00 3.81 7.62 9.52" y="0" font-size="6.85" fill="#2a3f5f">20.0</text>
<text transform="translate(614.20,734.29) scale(1.0939,1)" x="-0.00 3.81 7.62 9.52" y="0" font-size="6.85" fill="#2a3f5f">10.0</text>
</svg>
</body></html>
